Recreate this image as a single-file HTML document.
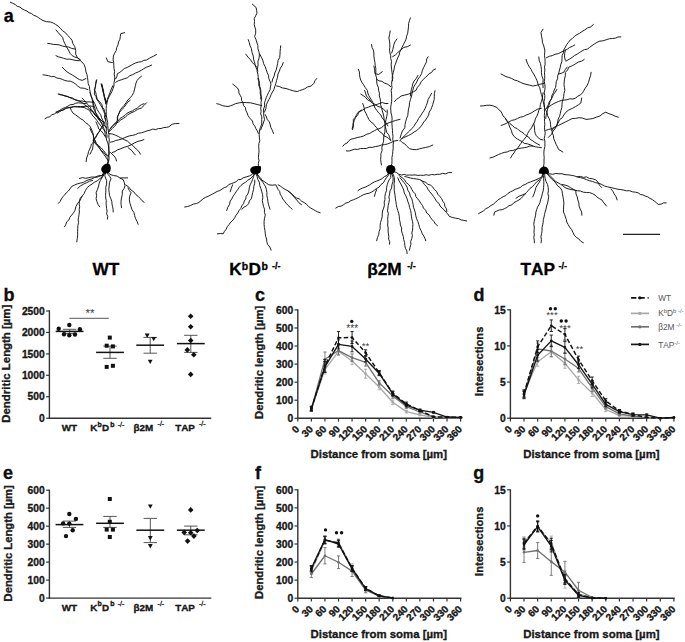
<!DOCTYPE html>
<html><head><meta charset="utf-8"><style>
html,body{margin:0;padding:0;background:#fff;}
svg{display:block;} text{font-kerning:none;}
</style></head><body>
<svg width="685" height="642" viewBox="0 0 685 642">
<rect width="685" height="642" fill="#fff"/>
<path d="M10.3,2.2 L12.7,3.3 L15.2,4.5 L17.2,6.3 L19.9,7.0 L22.0,8.8 L24.4,10.0 L26.9,11.0 L29.0,12.7 L31.6,13.6 L33.7,15.3 L36.2,16.2 L38.5,17.6 L40.7,19.2 L43.0,20.6 L46.7,21.7 L50.5,22.0 L53.2,23.0 L55.6,24.4 L58.0,26.0 L60.4,28.3 L62.6,30.8 L65.4,32.7 L67.5,35.3 L69.9,37.6 L72.0,40.2 L72.9,43.7 L74.8,46.7 L75.7,50.4 L75.7,54.2 L77.2,57.2 L79.4,59.8 L81.9,62.0 L84.1,64.5 L85.4,68.2 L86.0,72.0 L87.0,74.7 L87.5,77.6 L87.9,80.4 L88.2,83.6 L89.4,86.5 L89.7,89.7 L90.3,92.5 L91.0,95.4 L91.9,98.1 L92.5,101.0 L93.1,103.8 L94.4,106.4 L95.1,109.1 L95.3,112.0 L97.5,115.2 L99.2,118.7 L100.3,121.3 L101.7,123.7 L102.9,126.2 L104.0,128.9 L104.8,131.8 L105.3,134.6 L106.1,137.3 L106.6,140.0 L107.8,142.9 L108.5,146.0 L108.6,149.2 L109.4,152.3 L108.9,155.4 L109.1,158.6 L108.5,161.7 L106.3,166.0 L106.2,168.6" fill="none" stroke="#111" stroke-width="0.95" stroke-linejoin="round" stroke-linecap="round"/>
<path d="M56.0,30.0 L58.1,32.5 L60.4,35.0 L62.6,37.4 L63.5,40.7 L64.9,43.7 L66.4,46.7 L68.4,49.9 L70.0,53.3 L72.1,55.6 L74.8,57.0 L77.8,58.0 L80.4,59.8" fill="none" stroke="#111" stroke-width="0.95" stroke-linejoin="round" stroke-linecap="round"/>
<path d="M47.7,43.4 L50.5,43.7 L53.2,44.4 L56.0,44.5 L59.2,44.9 L62.3,46.0 L65.4,46.7 L68.7,47.0 L71.6,48.4 L74.8,49.0" fill="none" stroke="#111" stroke-width="0.95" stroke-linejoin="round" stroke-linecap="round"/>
<path d="M56.0,55.7 L58.4,56.8 L61.0,57.5 L63.6,58.3 L66.6,59.2 L69.8,59.1 L72.9,59.8 L76.1,60.5 L79.4,60.7" fill="none" stroke="#111" stroke-width="0.95" stroke-linejoin="round" stroke-linecap="round"/>
<path d="M62.2,67.3 L64.7,69.7 L67.3,72.0 L69.8,73.6 L72.3,75.0 L74.8,76.6 L77.1,78.2 L79.5,79.6 L82.2,80.4 L86.0,78.5" fill="none" stroke="#111" stroke-width="0.95" stroke-linejoin="round" stroke-linecap="round"/>
<path d="M43.0,74.8 L45.8,75.2 L48.6,75.7 L51.4,76.6 L54.3,76.6 L56.9,78.0 L59.8,78.5 L62.4,79.4 L64.9,80.5 L67.6,81.1 L70.3,81.2 L72.9,82.2 L75.5,84.0 L77.8,86.1 L80.4,87.9 L84.3,88.3 L87.9,89.7" fill="none" stroke="#111" stroke-width="0.95" stroke-linejoin="round" stroke-linecap="round"/>
<path d="M58.9,94.4 L61.5,95.1 L64.1,95.4 L66.7,96.1 L69.2,97.2 L72.5,98.0 L75.3,100.0 L78.5,101.0 L82.3,101.0 L86.0,101.9 L89.8,101.9 L93.5,102.4" fill="none" stroke="#111" stroke-width="0.95" stroke-linejoin="round" stroke-linecap="round"/>
<path d="M45.0,118.7 L47.3,117.4 L49.8,116.7 L51.8,114.8 L54.3,114.0 L57.1,112.1 L59.9,110.3 L62.7,108.4 L65.4,107.5 L67.9,106.2 L70.2,104.7 L73.1,104.5 L75.7,103.2 L78.6,102.8 L82.4,103.2 L86.1,103.7" fill="none" stroke="#111" stroke-width="0.95" stroke-linejoin="round" stroke-linecap="round"/>
<path d="M56.0,112.0 L58.6,111.0 L61.4,110.6 L64.1,109.8 L66.4,108.0 L69.2,107.5 L72.0,106.9 L74.8,106.7 L77.6,106.5 L80.4,106.5 L83.0,106.5 L85.6,106.6 L88.3,106.2 L90.9,106.0 L93.5,106.5" fill="none" stroke="#111" stroke-width="0.95" stroke-linejoin="round" stroke-linecap="round"/>
<path d="M57.1,113.1 L59.9,111.5 L62.6,109.8 L65.5,108.4 L68.3,107.8 L71.2,107.6 L73.9,106.5 L77.3,107.0 L80.8,107.2 L84.2,107.5 L86.6,108.8 L89.1,110.1 L91.7,111.2 L93.9,112.7 L95.1,115.3 L97.1,117.0 L99.2,118.7 L101.8,120.9 L104.8,122.4" fill="none" stroke="#111" stroke-width="0.95" stroke-linejoin="round" stroke-linecap="round"/>
<path d="M70.2,107.5 L71.3,110.4 L73.0,113.1 L75.6,114.9 L78.1,116.7 L80.5,118.7 L83.3,120.2 L85.4,122.6 L88.0,124.3 L90.3,126.8 L91.7,129.9 L93.1,133.5 L93.6,137.4 L94.8,140.1 L95.4,143.0 L97.6,145.3 L99.3,147.9 L101.0,150.5 L103.2,152.0 L105.1,153.8 L106.6,156.1" fill="none" stroke="#111" stroke-width="0.95" stroke-linejoin="round" stroke-linecap="round"/>
<path d="M86.1,161.7 L86.7,157.9 L88.0,154.2 L88.5,151.6 L89.7,149.1 L90.7,146.7 L91.5,144.0 L93.6,142.0 L94.5,139.3 L96.2,136.9 L97.3,134.1 L99.2,131.8 L100.8,128.8 L102.9,126.2" fill="none" stroke="#111" stroke-width="0.95" stroke-linejoin="round" stroke-linecap="round"/>
<path d="M82.2,98.1 L84.2,100.2 L86.1,102.4 L87.9,104.7 L90.1,106.9 L91.3,109.8 L93.5,112.0 L94.9,114.9 L97.2,117.0 L99.0,119.6" fill="none" stroke="#111" stroke-width="0.95" stroke-linejoin="round" stroke-linecap="round"/>
<path d="M96.3,80.4 L95.7,83.5 L95.5,86.7 L94.4,89.7 L95.8,92.7 L96.4,95.9 L97.2,99.0 L99.7,101.7 L101.9,104.7 L102.5,107.3 L104.1,109.4 L104.7,112.0 L105.7,114.6 L105.1,117.4 L106.0,120.0" fill="none" stroke="#111" stroke-width="0.95" stroke-linejoin="round" stroke-linecap="round"/>
<path d="M101.9,84.1 L102.5,87.2 L103.5,90.3 L103.7,93.5 L104.3,96.3 L105.5,99.0 L105.6,101.9" fill="none" stroke="#111" stroke-width="0.95" stroke-linejoin="round" stroke-linecap="round"/>
<path d="M124.6,32.7 L120.8,33.6 L120.3,36.4 L119.9,39.3 L118.5,41.9 L118.0,44.9 L116.7,47.6 L116.2,50.5 L114.6,53.2 L113.4,56.0 L113.1,60.0 L113.7,62.8 L113.8,65.7 L114.0,68.6 L114.6,71.4 L114.2,74.3 L114.8,77.1 L114.5,80.0 L114.0,82.8 L114.0,85.7 L113.0,88.6 L111.9,91.5 L110.5,94.2 L109.0,96.9 L107.7,99.7 L107.1,102.8 L106.4,105.6 L106.2,108.5 L106.3,111.4 L106.2,114.3 L106.6,117.1 L107.1,119.9 L107.7,122.7 L107.7,125.6 L108.0,128.5 L108.4,131.4 L109.0,134.2 L108.8,137.1 L109.3,139.9 L109.0,142.8 L108.8,145.6 L109.1,148.5 L108.6,151.3 L108.8,154.2 L107.9,157.5 L108.0,161.0 L107.1,165.0 L106.2,168.6" fill="none" stroke="#111" stroke-width="0.95" stroke-linejoin="round" stroke-linecap="round"/>
<path d="M106.4,58.0 L107.8,61.7 L112.4,62.6" fill="none" stroke="#111" stroke-width="0.95" stroke-linejoin="round" stroke-linecap="round"/>
<path d="M156.4,54.6 L153.1,56.4 L149.8,58.0 L146.5,60.0 L143.8,60.4 L141.4,61.7 L138.4,62.1 L135.5,63.0 L132.8,64.3 L130.0,65.9 L127.2,67.4 L124.2,68.6 L122.1,70.5 L119.9,72.3 L117.4,73.7 L116.9,76.4 L115.7,78.8" fill="none" stroke="#111" stroke-width="0.95" stroke-linejoin="round" stroke-linecap="round"/>
<path d="M151.6,65.1 L149.0,66.3 L146.3,67.3 L143.8,68.7 L141.4,70.3 L138.5,71.8 L135.6,73.0 L132.8,74.6 L129.8,75.7 L127.3,77.8 L124.2,78.8 L121.3,79.8 L118.4,80.7 L115.7,82.3" fill="none" stroke="#111" stroke-width="0.95" stroke-linejoin="round" stroke-linecap="round"/>
<path d="M141.4,76.3 L139.0,78.2 L137.1,80.5 L136.0,83.0 L135.4,85.7 L134.6,89.1 L133.7,92.5 L132.2,95.3 L130.2,97.7 L127.9,100.0 L126.0,102.8 L124.0,105.5 L121.7,108.0 L120.1,110.4 L119.1,113.1 L117.7,116.4 L117.4,120.0 L116.7,122.6 L115.7,125.1 L112.3,128.5 L108.8,131.9" fill="none" stroke="#111" stroke-width="0.95" stroke-linejoin="round" stroke-linecap="round"/>
<path d="M146.5,102.8 L144.0,105.5 L141.4,108.0 L137.7,109.3 L134.5,111.4 L131.0,112.9 L127.7,114.8 L125.6,116.8 L123.3,118.5 L120.8,119.9 L118.5,122.0 L115.7,123.4 L112.8,125.6 L110.5,128.5" fill="none" stroke="#111" stroke-width="0.95" stroke-linejoin="round" stroke-linecap="round"/>
<path d="M130.2,100.2 L127.9,102.1 L126.0,104.5 L124.1,107.3 L121.7,109.7 L119.7,112.1 L118.3,114.8 L117.3,117.3 L117.4,120.0" fill="none" stroke="#111" stroke-width="0.95" stroke-linejoin="round" stroke-linecap="round"/>
<path d="M179.0,123.4 L175.6,123.6 L172.2,124.2 L168.8,126.8 L166.3,127.4 L163.6,127.6 L161.1,128.5 L158.5,128.5 L155.7,129.6 L152.7,129.1 L149.9,130.2 L147.0,130.9 L144.2,131.9 L141.4,132.8 L138.4,133.2 L135.7,134.5 L132.8,135.3 L129.8,135.8 L127.0,136.7 L124.2,137.9 L121.5,139.1 L118.6,139.9 L115.7,140.5 L113.2,141.6 L110.5,142.2" fill="none" stroke="#111" stroke-width="0.95" stroke-linejoin="round" stroke-linecap="round"/>
<path d="M143.9,139.6 L141.0,140.7 L137.9,141.3 L134.5,143.0 L131.1,144.8 L127.7,146.3 L124.2,147.3 L120.8,148.7 L117.4,149.9 L115.0,151.6 L112.3,152.5" fill="none" stroke="#111" stroke-width="0.95" stroke-linejoin="round" stroke-linecap="round"/>
<path d="M140.5,154.2 L138.7,151.3 L136.2,149.0 L132.8,145.6 L130.1,143.6 L127.7,141.3 L124.2,139.6 L120.8,137.9 L118.3,136.5 L115.7,135.3 L112.4,134.0 L108.8,133.6" fill="none" stroke="#111" stroke-width="0.95" stroke-linejoin="round" stroke-linecap="round"/>
<path d="M135.4,155.0 L133.6,153.0 L132.0,150.8 L128.0,147.5" fill="none" stroke="#111" stroke-width="0.95" stroke-linejoin="round" stroke-linecap="round"/>
<path d="M116.5,161.0 L115.7,158.2 L114.0,155.9 L110.5,152.5" fill="none" stroke="#111" stroke-width="0.95" stroke-linejoin="round" stroke-linecap="round"/>
<path d="M96.8,79.7 L96.2,82.3 L95.6,84.8 L95.1,87.4 L94.7,90.8 L94.3,94.2 L96.0,96.6 L96.8,99.4 L98.6,101.9 L100.3,104.5 L102.3,107.8 L103.7,111.4 L104.8,114.1 L104.5,117.1 L105.4,119.9 L106.1,122.7 L106.0,125.6 L106.3,128.5 L106.3,131.4 L106.8,134.2 L107.1,137.1" fill="none" stroke="#111" stroke-width="0.95" stroke-linejoin="round" stroke-linecap="round"/>
<path d="M101.1,84.0 L102.1,87.4 L102.8,90.8 L103.7,94.3 L104.6,97.7 L105.4,100.3 L106.3,102.8" fill="none" stroke="#111" stroke-width="0.95" stroke-linejoin="round" stroke-linecap="round"/>
<path d="M90.0,92.5 L91.0,96.1 L92.6,99.4 L93.3,102.2 L93.1,105.1 L93.4,108.0 L94.8,110.7 L95.9,113.6 L96.8,116.5 L98.3,119.0 L100.3,121.1 L102.0,123.4 L104.5,126.0 L107.1,128.5" fill="none" stroke="#111" stroke-width="0.95" stroke-linejoin="round" stroke-linecap="round"/>
<path d="M90.0,111.4 L91.5,113.8 L93.0,116.2 L95.1,118.2 L96.9,120.5 L98.5,122.9 L100.3,125.1 L102.0,127.4 L103.7,129.6 L105.4,131.9" fill="none" stroke="#111" stroke-width="0.95" stroke-linejoin="round" stroke-linecap="round"/>
<path d="M90.0,128.5 L91.5,132.0 L93.4,135.3 L93.5,138.8 L93.4,142.2 L93.0,145.6 L92.6,149.0 L91.3,151.6 L90.0,154.2" fill="none" stroke="#111" stroke-width="0.95" stroke-linejoin="round" stroke-linecap="round"/>
<path d="M103.7,125.1 L101.6,127.4 L100.3,130.2 L98.4,132.6 L96.8,135.3 L94.8,137.7 L93.4,140.5" fill="none" stroke="#111" stroke-width="0.95" stroke-linejoin="round" stroke-linecap="round"/>
<path d="M95.1,140.5 L96.4,143.3 L98.6,145.6 L101.3,148.0 L103.7,150.8 L105.8,153.4 L108.0,155.9" fill="none" stroke="#111" stroke-width="0.95" stroke-linejoin="round" stroke-linecap="round"/>
<path d="M144.0,103.7 L141.4,104.7 L139.2,106.2 L137.2,108.2 L134.7,109.3 L132.4,110.9 L129.7,111.9 L127.2,113.1 L125.0,115.3 L122.4,117.1 L119.7,118.7 L118.2,120.9 L115.8,122.3 L114.1,124.3 L112.0,126.6 L110.0,129.0 L108.5,131.8" fill="none" stroke="#111" stroke-width="0.95" stroke-linejoin="round" stroke-linecap="round"/>
<path d="M58.2,94.0 L61.6,94.6 L64.7,96.1 L68.0,96.8 L71.4,98.4 L75.0,99.6 L78.6,100.6 L82.0,102.4 L84.5,104.8 L87.6,106.6 L89.1,108.8 L91.6,110.1 L93.2,112.2 L94.7,114.4 L97.0,115.9 L98.8,117.8 L100.9,119.9 L103.0,122.0 L104.3,125.1 L106.5,127.6" fill="none" stroke="#111" stroke-width="0.95" stroke-linejoin="round" stroke-linecap="round"/>
<path d="M93.2,140.2 L95.0,143.2 L97.4,145.8 L99.8,148.4 L101.6,151.5 L103.8,154.3 L105.8,157.1 L108.6,161.3 L107.4,164.9 L106.2,168.6" fill="none" stroke="#111" stroke-width="0.95" stroke-linejoin="round" stroke-linecap="round"/>
<path d="M96.0,122.0 L97.6,125.4 L98.8,129.0 L101.1,130.9 L103.0,133.2 L105.8,137.4" fill="none" stroke="#111" stroke-width="0.95" stroke-linejoin="round" stroke-linecap="round"/>
<path d="M93.2,101.0 L94.8,103.7 L96.0,106.6 L97.2,109.5 L98.8,112.2 L100.7,114.8 L101.6,117.8 L102.9,120.6 L104.4,123.4" fill="none" stroke="#111" stroke-width="0.95" stroke-linejoin="round" stroke-linecap="round"/>
<path d="M101.6,84.2 L102.4,87.7 L103.0,91.2 L104.2,94.6 L104.4,98.2 L105.3,101.0 L105.8,103.8" fill="none" stroke="#111" stroke-width="0.95" stroke-linejoin="round" stroke-linecap="round"/>
<path d="M112.9,85.6 L111.3,89.0 L110.0,92.6 L108.6,96.1 L107.2,99.6 L105.8,103.8" fill="none" stroke="#111" stroke-width="0.95" stroke-linejoin="round" stroke-linecap="round"/>
<path d="M79.5,178.5 L82.5,177.6 L85.7,178.3 L88.7,177.7 L91.7,177.0 L95.2,177.1 L98.5,175.7 L102.0,175.7 L103.2,173.2 L104.4,170.7 L106.2,168.6" fill="none" stroke="#111" stroke-width="0.95" stroke-linejoin="round" stroke-linecap="round"/>
<path d="M58.4,203.3 L60.2,201.4 L61.4,198.9 L62.8,196.8 L64.7,194.8 L66.3,192.8 L68.4,191.0 L70.0,188.9 L71.5,186.6 L74.3,185.2 L77.2,183.9 L80.3,183.1 L83.4,182.4 L86.1,180.8 L89.0,179.6 L92.0,178.9 L94.7,177.4 L97.8,177.0 L100.3,175.8 L103.0,175.5 L104.8,172.1 L106.2,168.6" fill="none" stroke="#111" stroke-width="0.95" stroke-linejoin="round" stroke-linecap="round"/>
<path d="M64.5,226.9 L65.8,224.5 L66.7,221.9 L68.9,219.9 L69.8,217.3 L71.7,215.1 L73.5,212.8 L75.0,210.3 L75.9,206.6 L77.7,203.3 L79.5,201.2 L80.2,198.4 L82.0,196.3 L84.1,193.6 L85.5,190.4 L87.3,187.5 L89.5,185.6 L92.0,184.1 L94.3,182.3 L97.2,180.9 L99.6,178.8 L103.0,176.5 L103.8,173.8 L104.8,171.1 L106.2,168.6" fill="none" stroke="#111" stroke-width="0.95" stroke-linejoin="round" stroke-linecap="round"/>
<path d="M76.8,241.8 L77.3,238.3 L77.7,234.8 L77.6,231.7 L77.7,228.7 L77.9,225.6 L78.5,222.6 L78.2,219.9 L78.6,217.3 L79.0,214.6 L79.4,212.0 L79.2,209.4 L79.7,206.8 L79.2,204.1 L79.4,201.5 L80.7,198.9 L82.0,196.3" fill="none" stroke="#111" stroke-width="0.95" stroke-linejoin="round" stroke-linecap="round"/>
<path d="M77.7,188.4 L80.5,185.9 L83.8,184.0 L86.7,182.7 L89.5,181.2 L92.6,180.5" fill="none" stroke="#111" stroke-width="0.95" stroke-linejoin="round" stroke-linecap="round"/>
<path d="M99.6,206.8 L98.0,204.3 L96.9,201.5 L96.1,198.6 L96.6,195.7 L96.1,192.8 L97.5,189.3 L98.7,185.8 L99.2,183.0 L100.4,180.5 L102.2,177.0 L104.0,174.5 L105.1,171.5 L106.2,168.6" fill="none" stroke="#111" stroke-width="0.95" stroke-linejoin="round" stroke-linecap="round"/>
<path d="M107.4,219.1 L107.7,216.4 L106.6,213.8 L107.1,211.1 L106.6,208.5 L106.3,205.9 L106.1,203.3 L106.3,200.6 L105.7,198.0 L105.6,195.4 L105.7,192.8 L105.9,190.1 L105.7,187.5 L106.7,184.1 L106.6,180.5 L105.5,178.0 L104.8,175.3 L105.9,172.0 L106.2,168.6" fill="none" stroke="#111" stroke-width="0.95" stroke-linejoin="round" stroke-linecap="round"/>
<path d="M113.2,212.0 L113.1,209.3 L112.6,206.7 L112.0,204.1 L111.8,201.5 L110.8,198.6 L109.6,195.8 L109.2,192.8 L108.8,189.3 L109.2,185.8 L109.6,182.2 L111.0,178.8 L109.8,176.5 L108.1,174.4 L106.9,171.6 L106.2,168.6" fill="none" stroke="#111" stroke-width="0.95" stroke-linejoin="round" stroke-linecap="round"/>
<path d="M121.5,207.7 L121.1,204.5 L121.0,201.2 L121.5,198.0 L122.3,194.5 L122.3,191.0 L124.0,188.6 L125.0,185.8 L124.3,182.6 L123.2,179.6 L120.0,178.1 L117.1,176.1 L113.4,175.5 L109.8,174.4 L107.8,171.6 L106.2,168.6" fill="none" stroke="#111" stroke-width="0.95" stroke-linejoin="round" stroke-linecap="round"/>
<path d="M127.6,177.9 L124.1,177.9 L120.6,177.9" fill="none" stroke="#111" stroke-width="0.95" stroke-linejoin="round" stroke-linecap="round"/>
<path d="M144.2,202.4 L141.9,200.6 L140.1,198.4 L138.1,196.3 L135.6,194.4 L133.8,191.8 L131.1,190.1 L128.8,187.1 L125.8,184.9" fill="none" stroke="#111" stroke-width="0.95" stroke-linejoin="round" stroke-linecap="round"/>
<path d="M138.1,224.3 L137.0,221.3 L135.5,218.5 L134.6,215.5 L133.9,212.4 L132.1,209.8 L131.1,206.8 L130.0,203.3 L129.3,199.8 L129.7,196.2 L131.1,192.8 L129.4,190.5 L128.0,188.0" fill="none" stroke="#111" stroke-width="0.95" stroke-linejoin="round" stroke-linecap="round"/>
<path d="M107.9,163.5 C110.6,163.9 111.1,167.5 110.6,170 C110.1,172.6 108,173.4 105.5,173.4 C102.9,173.4 101.1,171.5 101.2,169.3 C101.4,166.7 104.5,163.2 107.9,163.5 Z" fill="#000"/>
<path d="M252.3,4.1 L256.1,7.5 L256.6,10.3 L257.0,13.1 L255.6,15.9 L254.2,18.7 L254.5,21.5 L254.2,24.3 L254.9,27.1 L255.7,29.9 L255.7,33.2 L254.6,36.4 L256.0,39.6 L257.0,43.0 L257.9,45.7 L257.9,48.6 L258.8,51.4 L259.4,54.2 L259.1,58.0 L257.9,61.7 L258.1,64.9 L257.5,67.9 L257.0,71.0 L257.9,74.1 L258.2,77.3 L258.9,80.4 L259.5,83.5 L259.8,86.7 L260.7,89.7 L260.9,92.9 L261.1,96.0 L261.7,99.1 L261.0,102.2 L261.2,105.3 L260.7,108.4 L261.1,111.2 L260.7,114.0 L261.8,116.8 L261.7,119.6 L261.8,124.0 L260.4,127.4 L259.4,131.0 L259.2,134.5 L259.4,138.0 L259.8,140.8 L258.9,143.6 L258.7,146.4 L258.9,149.3 L259.0,152.1 L258.6,154.9 L258.4,157.7 L259.0,160.5 L258.4,163.3 L258.3,166.1 L255.6,170.2" fill="none" stroke="#111" stroke-width="0.95" stroke-linejoin="round" stroke-linecap="round"/>
<path d="M248.2,39.6 L249.3,42.6 L250.0,45.7 L251.4,48.6 L252.0,52.4 L253.3,56.1 L253.5,59.0 L254.4,61.7 L255.1,64.5 L256.1,67.9 L257.9,71.0" fill="none" stroke="#111" stroke-width="0.95" stroke-linejoin="round" stroke-linecap="round"/>
<path d="M245.8,54.2 L248.0,57.1 L250.5,59.8 L252.2,62.3 L254.2,64.5 L257.0,67.3" fill="none" stroke="#111" stroke-width="0.95" stroke-linejoin="round" stroke-linecap="round"/>
<path d="M259.8,54.2 L261.3,57.2 L262.8,60.3 L263.6,63.6 L265.2,66.6 L266.2,69.7 L267.3,72.9 L268.6,75.6 L268.8,78.6 L270.0,81.3 L271.0,84.1 L270.4,86.9 L270.1,89.7 L268.6,92.4 L267.3,95.3 L266.2,97.7 L265.4,100.3 L264.5,102.8 L264.7,106.0 L263.6,109.0 L263.6,112.1 L263.8,115.9 L264.5,119.6 L263.0,124.0 L261.8,127.0 L260.6,130.0" fill="none" stroke="#111" stroke-width="0.95" stroke-linejoin="round" stroke-linecap="round"/>
<path d="M280.7,45.8 L280.4,48.6 L280.1,51.4 L280.0,54.2 L279.7,57.5 L278.1,60.4 L277.6,63.6 L276.9,66.8 L276.2,69.9 L274.8,72.9 L274.1,76.1 L272.7,79.0 L272.0,82.2" fill="none" stroke="#111" stroke-width="0.95" stroke-linejoin="round" stroke-linecap="round"/>
<path d="M283.2,62.6 L282.2,65.5 L280.4,68.1 L279.4,71.0 L278.0,74.0 L277.5,77.3 L276.6,80.4 L275.8,83.5 L274.8,86.6 L273.8,89.7 L272.4,92.1 L271.1,94.6 L270.1,97.2 L268.8,99.6 L267.5,102.1 L266.4,104.7 L265.9,108.5 L264.5,112.1" fill="none" stroke="#111" stroke-width="0.95" stroke-linejoin="round" stroke-linecap="round"/>
<path d="M276.6,86.0 L279.5,86.6 L282.2,87.9 L286.0,88.5 L289.7,89.7 L293.4,90.9 L297.2,91.6 L299.6,90.5 L302.2,89.8 L304.7,88.8 L307.7,86.9 L311.2,86.0 L314.0,83.2 L315.0,80.6 L316.8,78.5" fill="none" stroke="#111" stroke-width="0.95" stroke-linejoin="round" stroke-linecap="round"/>
<path d="M216.8,103.7 L219.7,104.4 L222.4,105.6 L225.2,106.2 L228.0,106.5 L230.6,105.8 L233.1,104.8 L235.5,103.7 L239.2,102.8 L243.0,102.4 L246.7,102.6 L250.5,102.8 L254.2,103.7 L257.9,104.7 L261.7,105.6" fill="none" stroke="#111" stroke-width="0.95" stroke-linejoin="round" stroke-linecap="round"/>
<path d="M232.7,84.1 L235.1,86.0 L237.4,87.9 L238.7,90.2 L238.9,93.0 L240.2,95.3 L241.4,97.7 L241.6,100.5 L243.0,102.8 L243.5,105.5 L245.4,107.6 L245.8,110.3 L247.1,112.8 L248.0,115.5 L249.5,117.8 L252.4,121.0 L253.1,123.8 L254.8,126.1 L255.9,128.7 L257.3,130.9 L258.3,133.4" fill="none" stroke="#111" stroke-width="0.95" stroke-linejoin="round" stroke-linecap="round"/>
<path d="M257.9,78.5 L258.8,81.6 L258.7,84.9 L259.8,87.9 L260.3,90.7 L260.2,93.5 L260.9,96.3 L260.7,99.1" fill="none" stroke="#111" stroke-width="0.95" stroke-linejoin="round" stroke-linecap="round"/>
<path d="M265.3,114.7 L266.5,117.0 L267.2,119.6 L269.2,121.5 L270.0,124.0 L270.8,127.3 L272.3,130.3 L273.5,133.4" fill="none" stroke="#111" stroke-width="0.95" stroke-linejoin="round" stroke-linecap="round"/>
<path d="M184.7,207.0 L187.7,206.5 L190.6,205.5 L193.4,204.1 L196.4,203.5 L198.9,202.5 L201.0,200.6 L203.1,198.8 L205.4,197.4 L208.0,196.4 L210.3,195.2 L212.7,194.0 L214.9,192.7 L217.2,191.4 L219.7,190.6 L222.0,189.1 L224.3,187.6 L226.9,186.7 L228.8,184.5 L231.4,183.6 L233.9,182.7 L236.2,181.6 L238.2,179.7 L241.0,179.4 L243.1,177.8 L246.3,176.9 L249.5,175.9 L252.4,174.3 L253.8,172.1 L255.6,170.2" fill="none" stroke="#111" stroke-width="0.95" stroke-linejoin="round" stroke-linecap="round"/>
<path d="M230.2,191.8 L231.3,188.3 L232.6,184.8" fill="none" stroke="#111" stroke-width="0.95" stroke-linejoin="round" stroke-linecap="round"/>
<path d="M226.7,210.5 L227.8,207.3 L229.5,204.4 L230.2,201.1 L231.8,198.8 L233.0,196.4 L234.6,194.1 L236.1,191.8 L237.7,189.6 L239.2,187.4 L241.0,185.4 L243.1,183.6 L245.6,182.3 L247.6,180.3 L250.1,178.9 L253.6,175.4 L255.0,173.0 L255.6,170.2" fill="none" stroke="#111" stroke-width="0.95" stroke-linejoin="round" stroke-linecap="round"/>
<path d="M217.4,233.8 L220.3,233.5 L223.2,233.8 L224.5,231.3 L226.2,229.2 L227.3,226.6 L229.1,224.5 L230.7,222.1 L233.0,220.1 L234.7,217.7 L236.1,215.1 L237.8,213.0 L239.1,210.5 L240.8,208.4 L241.9,205.8 L243.5,203.7 L244.3,201.1 L245.7,198.9 L246.2,196.2 L247.8,194.1 L248.8,191.1 L249.3,187.9 L250.1,184.8 L251.5,182.2 L252.6,179.4 L253.6,176.6 L254.4,173.3 L255.6,170.2" fill="none" stroke="#111" stroke-width="0.95" stroke-linejoin="round" stroke-linecap="round"/>
<path d="M241.9,209.3 L244.0,207.2 L246.6,205.8 L248.6,203.7 L249.4,200.9 L251.3,198.8 L252.0,195.7 L252.7,192.5 L253.6,189.4 L253.8,186.3 L254.7,183.2 L254.8,180.1" fill="none" stroke="#111" stroke-width="0.95" stroke-linejoin="round" stroke-linecap="round"/>
<path d="M271.1,250.2 L269.8,247.0 L267.6,244.3 L266.8,241.7 L266.6,239.0 L265.7,236.5 L265.3,233.8 L265.0,230.7 L264.4,227.6 L264.1,224.5 L264.1,221.3 L264.5,218.2 L265.3,215.1 L264.4,212.3 L264.5,209.2 L263.5,206.4 L262.9,203.5 L262.3,200.6 L262.8,197.6 L262.6,194.7 L261.8,191.8 L260.9,188.7 L259.8,185.6 L259.4,182.4 L257.9,179.6 L257.1,176.6 L255.9,173.5 L255.6,170.2" fill="none" stroke="#111" stroke-width="0.95" stroke-linejoin="round" stroke-linecap="round"/>
<path d="M270.0,209.3 L269.2,206.7 L268.4,204.2 L267.9,201.5 L267.6,198.8 L266.9,195.7 L266.9,192.5 L266.4,189.4 L265.6,186.9 L264.3,184.6 L262.9,182.4 L260.5,179.6 L258.3,176.6 L256.9,173.4 L255.6,170.2" fill="none" stroke="#111" stroke-width="0.95" stroke-linejoin="round" stroke-linecap="round"/>
<path d="M292.1,209.3 L290.2,207.3 L288.1,205.5 L286.3,203.5 L284.6,201.2 L282.8,199.0 L281.6,196.4 L280.2,194.2 L279.7,191.5 L278.1,189.4 L275.8,184.8 L272.3,185.2 L268.8,184.8 L266.5,183.2 L264.2,181.5 L261.8,180.1 L260.5,177.8 L258.5,176.0 L256.8,173.2 L255.6,170.2" fill="none" stroke="#111" stroke-width="0.95" stroke-linejoin="round" stroke-linecap="round"/>
<path d="M320.2,212.8 L317.7,211.9 L315.4,210.7 L313.1,209.4 L310.8,208.1 L308.4,206.4 L306.5,204.2 L304.1,202.5 L301.5,201.1 L299.4,199.0 L296.5,198.0 L294.1,196.3 L292.1,194.1 L289.9,192.3 L287.7,190.6 L285.1,189.4 L282.8,187.9 L280.5,186.3 L278.1,184.8" fill="none" stroke="#111" stroke-width="0.95" stroke-linejoin="round" stroke-linecap="round"/>
<path d="M301.5,204.6 L298.8,202.7 L296.7,200.0 L294.5,197.6 L292.5,194.9 L290.1,192.7 L287.5,190.6" fill="none" stroke="#111" stroke-width="0.95" stroke-linejoin="round" stroke-linecap="round"/>
<path d="M253,166.4 C255.5,165.8 259,165.8 260.8,166.3 C261.5,168.5 261,171.5 259.5,173 C258,174.4 254.5,174.8 252.5,173.8 C250.5,172.8 249.9,170.5 250.3,169.2 C250.8,167.8 251.8,166.8 253,166.4 Z" fill="#000"/>
<path d="M410.4,17.9 L409.4,20.8 L408.6,23.7 L408.5,26.8 L408.1,30.0 L407.7,33.2 L406.6,36.2 L406.1,39.1 L404.8,41.8 L403.4,44.6 L402.0,47.4 L400.9,49.8 L399.7,52.2 L399.2,54.9 L397.7,57.9 L396.5,61.0 L395.4,64.2 L394.4,66.9 L394.0,69.8 L393.2,72.6 L392.6,75.4 L392.8,78.6 L391.7,81.6 L391.7,84.8 L392.0,87.6 L391.2,90.4 L391.5,93.2 L391.7,96.0 L391.7,98.8 L391.6,101.6 L391.2,104.4 L390.7,107.2 L390.8,110.1 L391.0,113.0 L391.8,115.9 L392.1,118.8 L391.9,121.7 L392.0,124.6 L392.2,127.6 L392.5,130.5 L392.6,133.4 L393.0,136.3 L392.7,139.2 L393.5,142.1 L393.1,145.0 L393.2,148.1 L392.8,151.3 L392.6,154.4 L391.9,157.5 L392.0,160.6 L391.9,163.7 L390.9,166.5 L390.8,169.4" fill="none" stroke="#111" stroke-width="0.95" stroke-linejoin="round" stroke-linecap="round"/>
<path d="M390.2,30.9 L389.6,34.5 L388.9,38.0 L389.5,41.1 L389.8,44.2 L389.8,47.4 L389.5,50.2 L390.0,53.0 L390.7,55.8 L390.7,58.6 L391.5,61.4 L391.2,64.2 L391.3,67.0 L391.7,69.8 L392.0,72.6 L392.4,75.4 L392.2,78.2 L392.6,81.0" fill="none" stroke="#111" stroke-width="0.95" stroke-linejoin="round" stroke-linecap="round"/>
<path d="M396.9,39.0 L394.8,42.0 L393.6,45.5 L392.9,49.3 L391.7,53.0" fill="none" stroke="#111" stroke-width="0.95" stroke-linejoin="round" stroke-linecap="round"/>
<path d="M410.4,45.1 L407.3,46.7 L403.8,47.4 L401.6,49.4 L399.2,51.1 L397.4,53.1 L395.4,54.9 L392.6,56.7" fill="none" stroke="#111" stroke-width="0.95" stroke-linejoin="round" stroke-linecap="round"/>
<path d="M371.5,44.6 L372.1,47.5 L373.4,50.1 L373.9,53.0 L373.9,56.1 L374.3,59.2 L374.9,62.3 L375.2,65.4 L375.8,68.5 L375.8,71.7 L375.6,74.8 L376.6,77.9 L376.7,81.0 L377.0,84.2 L378.3,87.2 L378.6,90.4 L379.4,93.1 L379.3,96.0 L380.2,98.8 L380.5,101.6 L380.6,104.8 L381.7,107.8 L382.3,110.9 L383.3,114.0 L383.9,117.1 L384.2,120.3 L384.9,123.4 L385.3,126.5 L386.1,129.6 L386.8,132.5 L388.8,134.8 L389.7,137.7 L390.7,140.4" fill="none" stroke="#111" stroke-width="0.95" stroke-linejoin="round" stroke-linecap="round"/>
<path d="M373.9,66.1 L374.7,69.8 L374.9,73.6 L378.6,74.5 L382.3,71.7" fill="none" stroke="#111" stroke-width="0.95" stroke-linejoin="round" stroke-linecap="round"/>
<path d="M376.7,79.2 L379.0,80.9 L381.9,81.3 L384.2,82.9 L387.7,84.3 L390.7,86.6" fill="none" stroke="#111" stroke-width="0.95" stroke-linejoin="round" stroke-linecap="round"/>
<path d="M358.4,69.4 L359.4,71.9 L359.5,74.6 L359.9,77.3 L360.7,80.0 L362.0,82.5 L363.6,84.8 L365.3,87.7 L367.4,90.4 L367.8,93.1 L368.8,95.6 L370.2,97.9 L371.6,100.3 L373.0,102.7 L373.9,105.3 L375.1,108.1 L376.8,110.4 L378.6,112.8 L380.9,115.0 L382.2,117.9 L384.2,120.3 L386.2,123.0 L387.9,125.9" fill="none" stroke="#111" stroke-width="0.95" stroke-linejoin="round" stroke-linecap="round"/>
<path d="M364.6,90.4 L365.6,93.2 L366.4,96.0 L368.9,98.7 L371.1,101.6" fill="none" stroke="#111" stroke-width="0.95" stroke-linejoin="round" stroke-linecap="round"/>
<path d="M360.8,94.1 L363.2,95.7 L365.6,97.4 L367.4,99.7 L370.3,101.4 L373.0,103.5 L375.6,104.6 L377.8,106.4 L380.5,107.2 L383.6,109.2 L386.1,111.9" fill="none" stroke="#111" stroke-width="0.95" stroke-linejoin="round" stroke-linecap="round"/>
<path d="M352.4,129.6 L353.5,126.6 L353.4,123.3 L354.3,120.3 L355.7,117.4 L357.7,114.9 L359.0,111.9 L362.4,110.3 L365.5,108.1 L368.6,107.1 L371.6,105.8 L374.9,105.3 L377.4,104.3 L379.8,103.3 L382.3,102.5 L385.0,103.5 L387.9,103.5" fill="none" stroke="#111" stroke-width="0.95" stroke-linejoin="round" stroke-linecap="round"/>
<path d="M362.7,103.5 L364.0,107.1 L364.6,110.9 L366.1,113.6 L367.4,116.5 L368.9,119.5 L371.1,122.1 L373.3,123.6 L374.9,125.8 L376.7,127.8 L378.2,130.0 L380.0,131.9 L382.3,133.4 L383.7,135.7 L386.3,136.8 L388.6,138.4 L390.7,140.4" fill="none" stroke="#111" stroke-width="0.95" stroke-linejoin="round" stroke-linecap="round"/>
<path d="M428.1,56.7 L426.7,59.0 L426.5,61.8 L425.3,64.2 L423.8,67.2 L422.4,70.3 L421.6,73.6 L419.9,76.5 L417.9,79.2 L416.7,82.1 L415.0,84.8 L413.6,87.1 L413.0,89.7 L412.2,92.2 L411.6,96.0 L410.4,99.7 L409.5,102.8 L409.3,106.0 L408.5,109.1 L408.1,112.2 L407.8,115.4 L406.6,118.4 L405.7,121.5 L405.0,124.6 L404.8,127.8 L402.4,131.0 L401.1,134.5 L400.1,138.0" fill="none" stroke="#111" stroke-width="0.95" stroke-linejoin="round" stroke-linecap="round"/>
<path d="M435.6,68.9 L433.1,70.1 L431.6,72.5 L429.1,73.6 L427.4,75.7 L425.4,77.4 L423.5,79.2 L421.2,81.7 L419.7,84.8 L417.4,87.3 L416.0,90.4 L413.6,91.7 L411.1,93.1 L408.5,94.1 L404.8,95.1 L401.0,96.0 L398.8,97.9 L396.4,99.4 L394.5,101.6" fill="none" stroke="#111" stroke-width="0.95" stroke-linejoin="round" stroke-linecap="round"/>
<path d="M417.9,75.4 L416.3,78.4 L414.1,81.0 L412.8,83.7 L412.2,86.6 L411.3,89.7 L410.7,92.8 L410.4,96.0" fill="none" stroke="#111" stroke-width="0.95" stroke-linejoin="round" stroke-linecap="round"/>
<path d="M435.0,90.8 L434.4,93.6 L434.3,96.5 L434.2,99.4 L433.5,102.0 L432.7,104.6 L431.8,107.2 L430.8,109.7 L429.2,112.1 L428.6,115.1 L427.2,117.6 L425.6,120.0 L423.7,122.0 L422.4,124.4 L420.9,126.7 L418.8,128.5 L416.8,130.6 L414.2,131.9 L411.9,133.6 L408.5,135.5 L405.0,137.0 L402.2,138.3 L399.9,140.5" fill="none" stroke="#111" stroke-width="0.95" stroke-linejoin="round" stroke-linecap="round"/>
<path d="M431.6,93.4 L429.8,96.4 L428.2,99.4 L427.3,102.8 L426.3,105.5 L425.2,108.2 L423.9,110.7 L422.2,113.1 L420.5,115.9 L418.5,118.6 L417.0,121.6 L415.3,123.9 L413.8,126.4 L411.9,128.5 L409.4,131.1 L406.8,133.6 L404.1,136.1 L401.6,138.8" fill="none" stroke="#111" stroke-width="0.95" stroke-linejoin="round" stroke-linecap="round"/>
<path d="M352.2,128.7 L352.8,125.6 L353.3,122.5 L353.4,119.3 L355.3,117.2 L356.6,114.7 L358.0,112.3 L361.5,110.0" fill="none" stroke="#111" stroke-width="0.95" stroke-linejoin="round" stroke-linecap="round"/>
<path d="M342.9,146.2 L344.7,144.1 L347.2,143.0 L348.8,140.8 L351.0,139.2 L354.2,138.5 L357.2,137.5 L360.4,136.9 L363.6,136.0 L366.5,134.3 L369.7,133.4 L371.9,132.0 L374.3,130.8 L376.6,129.5 L379.1,128.7 L381.7,127.5 L383.8,125.6 L386.1,124.0 L389.1,122.7 L392.3,121.6 L395.4,120.5 L400.1,119.3" fill="none" stroke="#111" stroke-width="0.95" stroke-linejoin="round" stroke-linecap="round"/>
<path d="M346.4,150.9 L349.3,151.0 L352.0,150.0 L354.8,149.2 L357.7,149.4 L360.4,148.6 L363.3,148.5 L366.3,148.5 L369.1,147.3 L372.1,147.4 L375.2,146.6 L378.4,146.1 L381.4,145.0 L384.6,144.6 L387.7,143.9 L390.7,142.7 L394.1,141.1 L397.8,140.4" fill="none" stroke="#111" stroke-width="0.95" stroke-linejoin="round" stroke-linecap="round"/>
<path d="M381.4,164.9 L381.0,162.2 L380.6,159.5 L380.9,156.7 L380.9,153.6 L382.1,150.6 L381.9,147.4 L382.6,144.3 L383.6,141.2 L383.7,138.0 L384.0,134.9 L384.9,131.9 L384.9,128.7 L385.2,125.6 L385.4,122.4 L386.1,119.3 L386.8,116.2 L387.3,113.2 L387.2,110.0" fill="none" stroke="#111" stroke-width="0.95" stroke-linejoin="round" stroke-linecap="round"/>
<path d="M432.8,145.0 L429.4,146.6 L425.8,147.4 L422.6,148.1 L419.5,148.8 L416.4,149.7 L412.9,149.5 L409.4,148.6 L407.0,146.4 L404.8,143.9 L402.2,142.5 L400.1,140.4" fill="none" stroke="#111" stroke-width="0.95" stroke-linejoin="round" stroke-linecap="round"/>
<path d="M358.0,190.6 L360.2,189.1 L362.6,188.0 L365.1,187.2 L367.4,186.1 L369.7,184.8 L371.9,183.3 L374.2,182.0 L376.7,181.1 L379.1,180.1 L381.9,178.7 L384.3,176.7 L387.2,175.4 L388.8,172.3 L390.8,169.4" fill="none" stroke="#111" stroke-width="0.95" stroke-linejoin="round" stroke-linecap="round"/>
<path d="M335.8,208.1 L338.2,206.6 L341.1,206.1 L343.6,204.7 L345.9,203.0 L348.7,202.3 L350.8,200.7 L353.3,199.8 L355.7,198.8 L358.1,197.7 L360.4,196.4 L363.2,194.8 L366.1,193.8 L369.3,193.2 L372.1,191.8 L374.4,190.2 L376.6,188.5 L379.1,187.1 L380.9,184.6 L383.4,182.8 L384.9,180.1 L386.5,177.6 L388.4,175.4 L389.7,172.4 L390.8,169.4" fill="none" stroke="#111" stroke-width="0.95" stroke-linejoin="round" stroke-linecap="round"/>
<path d="M374.4,196.4 L375.4,192.9 L376.7,189.4" fill="none" stroke="#111" stroke-width="0.95" stroke-linejoin="round" stroke-linecap="round"/>
<path d="M376.7,240.8 L377.4,237.7 L378.7,234.7 L379.1,231.5 L380.2,228.7 L380.1,225.6 L380.5,222.7 L381.4,219.8 L382.2,216.9 L382.2,213.9 L382.6,210.9 L383.7,208.1 L384.4,205.2 L384.2,202.2 L385.0,199.4 L384.9,196.4 L385.4,193.5 L386.5,190.7 L386.6,187.7 L387.2,184.8 L388.0,182.3 L389.1,179.9 L390.7,177.8 L390.8,175.0 L390.9,172.2 L390.8,169.4" fill="none" stroke="#111" stroke-width="0.95" stroke-linejoin="round" stroke-linecap="round"/>
<path d="M389.6,244.3 L389.7,241.6 L388.6,239.1 L388.8,236.4 L388.4,233.8 L388.1,230.9 L388.2,227.9 L387.6,225.0 L387.9,222.1 L387.7,219.3 L387.9,216.5 L388.4,213.7 L387.5,210.9 L387.9,208.1 L388.2,205.3 L388.9,202.5 L389.4,199.8 L388.9,196.9 L389.6,194.1 L390.0,190.9 L391.6,188.0 L391.9,184.8 L393.0,181.4 L393.1,177.8 L392.3,175.0 L391.1,172.3 L390.8,169.4" fill="none" stroke="#111" stroke-width="0.95" stroke-linejoin="round" stroke-linecap="round"/>
<path d="M407.1,253.7 L406.8,250.8 L405.4,248.3 L404.8,245.5 L404.6,242.5 L403.7,239.6 L403.3,236.7 L402.4,233.8 L401.5,230.9 L401.6,227.9 L400.4,225.1 L400.1,222.1 L399.4,219.2 L399.3,216.2 L398.7,213.3 L397.8,210.5 L396.9,207.6 L396.3,204.7 L395.9,201.7 L395.4,198.8 L395.1,195.9 L394.7,193.0 L394.2,190.1 L394.3,187.1 L394.0,184.0 L394.5,180.9 L394.3,177.8 L393.5,174.8 L391.5,172.4 L390.8,169.4" fill="none" stroke="#111" stroke-width="0.95" stroke-linejoin="round" stroke-linecap="round"/>
<path d="M409.4,250.2 L410.1,247.3 L410.9,244.4 L410.7,241.3 L411.8,238.5 L412.4,235.7 L411.8,232.9 L412.6,230.1 L412.7,227.3 L412.9,224.5 L412.6,221.7 L411.8,218.9 L411.4,216.1 L411.1,213.3 L410.6,210.5 L409.6,207.6 L409.0,204.6 L407.9,201.7 L407.1,198.8 L405.9,195.9 L404.3,193.1 L403.7,190.0 L402.4,187.1 L400.9,184.0 L399.1,181.0 L397.8,177.8" fill="none" stroke="#111" stroke-width="0.95" stroke-linejoin="round" stroke-linecap="round"/>
<path d="M425.8,240.8 L424.9,238.3 L423.7,236.0 L422.3,233.8 L421.1,230.7 L419.6,227.7 L418.8,224.5 L417.9,221.6 L416.6,218.8 L415.8,215.8 L415.3,212.8 L414.5,210.0 L413.5,207.3 L413.1,204.4 L412.5,201.6 L411.8,198.8 L410.2,196.1 L409.6,192.9 L407.8,190.2 L407.1,187.1 L405.6,184.6 L403.8,182.3 L401.9,180.1 L400.1,177.8" fill="none" stroke="#111" stroke-width="0.95" stroke-linejoin="round" stroke-linecap="round"/>
<path d="M437.5,225.7 L435.4,224.0 L434.0,221.6 L432.1,219.6 L430.5,217.5 L429.1,214.9 L426.7,213.0 L425.6,210.2 L423.5,208.1 L422.5,205.5 L420.8,203.3 L419.4,200.9 L417.6,198.8 L415.9,196.6 L415.2,193.8 L413.2,191.8 L411.8,189.4 L410.5,186.8 L408.7,184.5 L406.3,182.6 L404.8,180.1 L402.0,177.5 L398.9,175.4" fill="none" stroke="#111" stroke-width="0.95" stroke-linejoin="round" stroke-linecap="round"/>
<path d="M446.8,211.6 L446.5,208.8 L444.8,206.3 L444.5,203.5 L442.8,201.2 L441.6,198.6 L439.8,196.4 L437.8,194.3 L436.6,191.5 L434.4,189.6 L432.8,187.1 L430.7,185.2 L427.9,184.3 L425.8,182.4 L422.7,181.2 L419.7,179.6 L416.4,178.9 L413.4,178.6 L410.5,178.0 L407.7,177.2 L404.8,176.6" fill="none" stroke="#111" stroke-width="0.95" stroke-linejoin="round" stroke-linecap="round"/>
<path d="M466.7,221.0 L463.9,220.4 L461.1,219.9 L458.5,218.6 L455.3,218.2 L452.2,217.4 L449.2,216.3 L447.8,213.9 L445.8,212.1 L444.2,209.9 L442.1,208.1 L440.1,206.0 L438.9,203.3 L436.5,201.4 L435.1,198.8 L433.4,196.4 L431.7,194.0 L429.7,191.8 L428.1,189.4 L426.7,186.8 L424.6,184.7 L422.9,182.4 L421.1,180.1" fill="none" stroke="#111" stroke-width="0.95" stroke-linejoin="round" stroke-linecap="round"/>
<path d="M451.5,172.6 L448.5,172.6 L445.7,173.9 L442.6,173.3 L439.8,174.3 L437.1,174.3 L434.4,174.8 L431.6,174.5 L429.0,175.3 L426.2,174.7 L423.5,175.4 L420.7,175.2 L417.9,175.4 L415.0,174.9 L412.2,175.1 L409.4,175.0 L406.8,175.2 L404.2,174.4 L401.5,175.0 L398.9,174.3 L396.4,172.4 L393.4,171.3 L390.8,169.4" fill="none" stroke="#111" stroke-width="0.95" stroke-linejoin="round" stroke-linecap="round"/>
<ellipse cx="390.7" cy="169.6" rx="4.7" ry="4.7" transform="rotate(0 390.7 169.6)" fill="#000"/>
<path d="M543.0,29.2 L541.0,32.4 L541.5,36.2 L542.3,39.9 L542.4,42.6 L543.5,45.0 L544.8,50.0 L544.7,52.8 L544.5,55.7 L544.9,58.6 L545.1,61.4 L545.1,64.3 L544.5,67.1 L544.9,70.0 L544.5,72.8 L544.7,75.7 L544.7,78.6 L544.3,81.4 L544.8,84.3 L545.1,87.2 L544.8,90.0 L544.2,92.8 L544.8,95.7 L544.7,98.6 L544.0,101.4 L544.2,104.2 L544.6,107.1 L544.4,109.9 L544.6,112.8 L544.3,115.7 L544.5,118.5 L544.5,121.4 L544.9,124.2 L544.5,127.1 L544.7,130.0 L545.2,132.8 L544.8,135.7 L544.2,138.4 L544.9,141.1 L544.9,143.8 L544.9,146.5 L544.2,149.2 L543.9,151.9 L543.9,154.6 L544.2,157.3 L544.0,160.0 L544.0,163.5 L543.5,167.0 L543.9,170.3" fill="none" stroke="#111" stroke-width="0.95" stroke-linejoin="round" stroke-linecap="round"/>
<path d="M593.4,24.5 L590.8,26.8 L587.4,28.0 L584.6,30.0 L582.1,31.5 L579.7,33.2 L577.1,34.5 L574.7,36.2 L572.6,38.3 L570.2,40.0 L568.4,42.4 L566.7,44.6 L565.4,47.0 L563.7,50.0 L563.4,52.9 L562.1,55.6 L562.0,58.6 L561.9,61.5 L560.8,64.3 L560.3,67.1 L559.5,70.0 L558.8,72.9 L557.7,75.7 L557.6,78.7 L556.3,81.4 L556.0,84.3 L555.6,87.3 L554.2,90.0 L553.4,92.8 L551.8,95.5 L551.5,98.7 L550.0,101.4 L549.4,104.4 L548.2,107.1 L547.4,110.0 L546.8,112.8 L546.1,115.6 L545.7,118.5" fill="none" stroke="#111" stroke-width="0.95" stroke-linejoin="round" stroke-linecap="round"/>
<path d="M620.8,36.9 L617.9,37.0 L615.3,38.2 L612.4,38.5 L609.6,38.7 L606.3,39.7 L603.1,40.8 L599.6,41.2 L596.9,42.4 L594.4,44.0 L592.0,45.6 L589.6,47.4 L587.4,49.1 L584.5,49.6 L582.1,50.9 L579.7,52.4 L577.2,54.1 L574.6,55.5 L572.2,57.4 L569.1,59.3 L566.0,61.1" fill="none" stroke="#111" stroke-width="0.95" stroke-linejoin="round" stroke-linecap="round"/>
<path d="M574.7,44.9 L572.3,46.4 L569.7,47.4 L567.3,49.2 L564.7,50.5 L562.0,51.7 L558.7,53.5 L555.1,54.3 L552.3,55.6 L549.3,56.3 L546.5,57.7" fill="none" stroke="#111" stroke-width="0.95" stroke-linejoin="round" stroke-linecap="round"/>
<path d="M565.4,50.0 L564.7,53.4 L564.5,56.9 L565.4,60.3" fill="none" stroke="#111" stroke-width="0.95" stroke-linejoin="round" stroke-linecap="round"/>
<path d="M526.1,59.4 L526.9,62.1 L528.1,64.6 L529.4,67.1 L531.1,69.3 L532.2,71.7 L533.7,74.0 L535.5,77.4 L537.1,80.8 L538.1,84.4 L539.7,87.7 L540.5,91.2 L541.4,94.6 L542.5,97.9 L543.1,101.4 L543.8,104.3 L544.3,107.3 L545.7,110.0 L547.1,112.7 L547.6,115.8 L549.1,118.5 L550.2,121.3 L550.5,124.2 L550.8,127.1 L551.9,129.9 L552.3,132.9 L553.4,135.7 L553.8,138.7 L554.9,141.4 L556.0,144.2 L557.4,146.7 L558.5,149.4 L562.8,152.0" fill="none" stroke="#111" stroke-width="0.95" stroke-linejoin="round" stroke-linecap="round"/>
<path d="M538.8,56.9 L539.2,60.4 L540.5,63.7 L541.0,66.5 L541.4,69.4 L541.4,72.3 L541.8,75.8 L543.1,79.1 L543.0,82.0 L542.9,84.8 L543.1,87.7" fill="none" stroke="#111" stroke-width="0.95" stroke-linejoin="round" stroke-linecap="round"/>
<path d="M501.1,74.0 L503.6,75.3 L506.0,76.7 L508.8,77.4 L511.7,78.5 L514.4,80.0 L517.4,80.8 L520.2,82.2 L523.0,83.5 L526.0,84.3 L529.4,85.1 L532.8,86.0 L536.3,85.4 L539.7,84.3 L544.0,83.4" fill="none" stroke="#111" stroke-width="0.95" stroke-linejoin="round" stroke-linecap="round"/>
<path d="M480.5,106.0 L483.6,105.8 L486.7,105.3 L489.9,105.2 L493.5,106.0 L496.9,107.4 L498.5,109.5 L500.7,111.1 L502.0,113.4 L503.0,115.9 L505.2,117.8 L506.3,120.3 L508.5,123.5 L509.7,127.1 L511.4,130.4 L512.3,134.0 L514.5,136.9 L517.4,139.1 L519.8,140.4 L522.2,141.6 L524.3,143.4 L527.3,143.8 L530.1,144.7 L532.8,146.0 L535.6,146.8 L538.5,147.3 L541.4,147.7" fill="none" stroke="#111" stroke-width="0.95" stroke-linejoin="round" stroke-linecap="round"/>
<path d="M501.1,125.4 L503.8,124.5 L506.3,123.4 L508.8,122.0 L511.5,120.4 L514.6,119.8 L517.4,118.5 L520.2,117.2 L523.3,116.6 L526.0,115.1 L529.0,114.0 L531.9,112.6 L534.6,110.8 L537.8,109.1 L541.4,108.3" fill="none" stroke="#111" stroke-width="0.95" stroke-linejoin="round" stroke-linecap="round"/>
<path d="M505.4,118.5 L507.4,121.1 L509.7,123.4 L512.3,125.4 L514.3,127.5 L517.1,128.5 L519.1,130.5 L521.6,132.0 L524.0,133.6 L526.0,135.7 L528.6,137.0 L530.3,139.4 L532.8,140.8 L534.9,142.5 L537.3,143.8 L539.7,145.1" fill="none" stroke="#111" stroke-width="0.95" stroke-linejoin="round" stroke-linecap="round"/>
<path d="M490.0,158.0 L493.0,157.2 L495.8,155.8 L498.6,154.5 L501.4,153.4 L504.1,152.4 L507.1,152.0 L509.8,150.7 L512.9,150.5 L515.7,149.4 L518.5,148.5 L521.4,148.1 L524.3,147.7 L527.1,147.1 L529.9,146.0 L532.8,146.0" fill="none" stroke="#111" stroke-width="0.95" stroke-linejoin="round" stroke-linecap="round"/>
<path d="M510.6,158.0 L512.1,155.3 L514.0,152.8 L515.5,150.4 L517.6,148.4 L519.1,146.0 L520.7,143.6 L522.4,141.3 L524.3,139.1 L526.4,136.5 L527.7,133.4 L529.4,130.5 L531.5,127.9 L533.0,124.9 L534.6,122.0 L535.3,118.9 L536.8,116.2 L538.0,113.4 L538.8,110.4 L540.0,107.5 L540.4,104.4 L541.4,101.4 L542.2,98.6 L542.6,95.7 L543.1,92.8" fill="none" stroke="#111" stroke-width="0.95" stroke-linejoin="round" stroke-linecap="round"/>
<path d="M533.7,123.7 L534.5,127.1 L534.6,130.5 L535.1,133.2 L536.3,135.7 L539.7,139.1 L543.1,140.0" fill="none" stroke="#111" stroke-width="0.95" stroke-linejoin="round" stroke-linecap="round"/>
<path d="M584.2,59.4 L581.6,61.2 L578.4,62.0 L575.7,63.7 L572.4,65.7 L568.8,67.1 L567.6,70.0 L565.4,72.3 L565.3,75.7 L564.5,79.1 L564.2,82.0 L564.0,84.8 L564.5,87.7 L564.8,90.6 L564.0,93.4 L563.7,96.3 L563.1,99.1 L562.2,101.9 L562.0,104.8 L561.8,107.7 L560.9,110.5 L560.3,113.4 L559.6,116.3 L558.2,119.0 L557.7,122.0 L556.6,125.5 L555.1,128.8 L553.0,131.1 L551.7,134.0 L548.3,137.4" fill="none" stroke="#111" stroke-width="0.95" stroke-linejoin="round" stroke-linecap="round"/>
<path d="M591.1,72.3 L590.5,75.8 L589.4,79.1 L588.4,82.7 L586.8,86.0 L585.2,88.1 L583.9,90.5 L582.5,92.8 L580.5,94.9 L577.9,96.1 L575.7,98.0 L572.9,99.0 L569.9,98.8 L567.1,99.7 L564.2,100.1 L561.3,100.5 L558.5,101.4 L555.0,103.0 L551.7,104.8 L549.2,106.7 L546.5,108.3" fill="none" stroke="#111" stroke-width="0.95" stroke-linejoin="round" stroke-linecap="round"/>
<path d="M581.7,98.0 L580.8,103.1 L578.3,104.9 L575.7,106.5 L572.3,108.4 L568.8,110.0 L565.9,112.2 L563.7,115.1 L562.3,117.7 L559.9,119.4 L558.5,122.0 L557.2,124.8 L555.1,127.1 L551.7,130.5" fill="none" stroke="#111" stroke-width="0.95" stroke-linejoin="round" stroke-linecap="round"/>
<path d="M618.3,117.2 L615.1,116.2 L612.1,114.7 L608.9,113.7 L605.8,112.2 L602.7,113.7 L600.0,116.0 L596.4,117.2 L592.8,118.5 L589.4,119.1 L586.0,119.4 L582.7,118.1 L579.1,117.7 L575.7,118.4 L572.2,118.5 L568.8,120.3 L565.4,122.0 L561.9,123.7 L558.5,125.4 L555.0,126.8 L551.7,128.8 L548.6,129.4 L545.7,130.5" fill="none" stroke="#111" stroke-width="0.95" stroke-linejoin="round" stroke-linecap="round"/>
<path d="M558.5,74.0 L561.2,73.3 L563.7,72.3 L565.3,69.6 L567.1,67.1" fill="none" stroke="#111" stroke-width="0.95" stroke-linejoin="round" stroke-linecap="round"/>
<path d="M556.8,89.4 L555.3,92.1 L553.4,94.6 L552.4,97.3 L550.8,99.7 L549.2,102.1 L548.3,104.8 L546.5,108.3" fill="none" stroke="#111" stroke-width="0.95" stroke-linejoin="round" stroke-linecap="round"/>
<path d="M478.6,213.6 L481.1,212.2 L483.6,210.8 L485.8,208.7 L488.4,207.5 L490.8,205.6 L493.5,204.1 L495.8,202.0 L498.0,199.8 L500.7,198.3 L503.1,196.7 L505.8,195.6 L507.9,193.5 L510.3,191.9 L512.9,190.7 L515.3,189.3 L517.9,188.4 L520.5,187.3 L522.6,185.4 L525.2,184.5 L527.7,183.0 L530.4,181.9 L533.1,180.9 L535.9,179.9 L539.0,178.4 L542.0,176.9 L542.6,173.5 L543.9,170.3" fill="none" stroke="#111" stroke-width="0.95" stroke-linejoin="round" stroke-linecap="round"/>
<path d="M493.9,215.2 L494.5,212.1 L496.9,211.0 L499.3,209.9 L502.1,209.8 L504.4,208.7 L506.8,207.5 L509.0,205.6 L511.9,204.9 L513.9,202.6 L516.5,201.3 L519.0,199.9 L521.2,198.4 L522.9,196.4 L524.7,194.6 L526.3,192.5 L528.2,190.7 L530.0,188.4 L532.4,186.7 L534.4,184.5 L536.6,181.9 L539.3,179.8 L542.0,177.8 L542.8,174.0 L543.9,170.3" fill="none" stroke="#111" stroke-width="0.95" stroke-linejoin="round" stroke-linecap="round"/>
<path d="M516.0,198.3 L518.8,196.3 L522.1,195.1 L525.2,193.7" fill="none" stroke="#111" stroke-width="0.95" stroke-linejoin="round" stroke-linecap="round"/>
<path d="M532.8,196.8 L534.1,193.8 L535.1,190.7 L535.9,187.6 L537.4,185.0 L539.1,182.5 L540.5,179.9" fill="none" stroke="#111" stroke-width="0.95" stroke-linejoin="round" stroke-linecap="round"/>
<path d="M534.4,242.8 L534.3,240.2 L533.8,237.6 L534.3,234.9 L534.0,232.3 L534.2,229.6 L534.3,227.0 L533.8,224.4 L534.2,221.3 L534.9,218.3 L535.6,215.2 L535.9,212.1 L536.7,209.6 L537.5,207.1 L538.9,204.9 L540.0,202.5 L540.5,199.9 L541.6,196.9 L542.3,193.8 L543.2,190.8 L543.6,187.6 L543.8,184.5 L543.8,181.5 L543.6,178.4 L543.6,175.7 L543.6,173.0 L543.9,170.3" fill="none" stroke="#111" stroke-width="0.95" stroke-linejoin="round" stroke-linecap="round"/>
<path d="M541.1,242.8 L541.4,239.7 L541.0,236.6 L541.6,233.6 L542.1,230.5 L542.0,227.4 L542.7,224.9 L543.2,222.3 L543.3,219.7 L544.0,217.2 L544.5,214.6 L545.1,212.1 L546.0,209.1 L546.6,206.0 L547.6,203.0 L548.2,199.9 L548.7,196.8 L547.9,193.8 L548.4,190.7 L548.2,187.6 L547.5,184.4 L546.0,181.5 L545.1,178.4 L544.7,175.7 L544.8,172.9 L543.9,170.3" fill="none" stroke="#111" stroke-width="0.95" stroke-linejoin="round" stroke-linecap="round"/>
<path d="M583.4,242.8 L580.8,241.3 L578.8,238.9 L576.3,237.3 L574.2,235.1 L572.9,232.3 L571.6,229.5 L569.6,227.1 L568.1,224.4 L566.8,222.1 L566.3,219.5 L565.4,217.0 L564.6,214.5 L563.5,212.1 L563.5,209.1 L563.7,206.0 L563.9,202.9 L563.5,199.9 L563.0,196.8 L562.4,193.8 L562.0,190.7 L560.3,187.8 L557.6,185.8 L555.8,183.0 L553.9,180.8 L551.6,179.0 L549.7,176.9 L548.0,174.5 L545.5,172.8 L543.9,170.3" fill="none" stroke="#111" stroke-width="0.95" stroke-linejoin="round" stroke-linecap="round"/>
<path d="M581.9,215.2 L581.6,212.0 L580.2,209.1 L579.1,206.1 L578.8,202.9 L577.8,199.9 L577.2,196.8 L576.0,193.9 L575.8,190.7 L573.2,189.2 L570.6,187.7 L568.1,186.1 L565.1,185.1 L562.0,184.5" fill="none" stroke="#111" stroke-width="0.95" stroke-linejoin="round" stroke-linecap="round"/>
<path d="M606.4,206.0 L604.0,203.0 L601.8,199.9 L599.4,198.6 L597.0,197.1 L595.0,195.0 L592.6,193.7 L589.6,192.6 L586.5,192.5 L583.4,192.2 L580.4,191.0 L577.3,190.7 L574.2,190.0 L571.1,189.5 L568.0,188.8 L565.0,187.6 L562.9,185.8 L560.6,184.3 L558.2,182.9 L555.8,181.5 L553.7,179.5 L551.8,177.3 L549.7,175.3 L546.6,173.0 L543.9,170.3" fill="none" stroke="#111" stroke-width="0.95" stroke-linejoin="round" stroke-linecap="round"/>
<path d="M666.2,202.9 L663.5,202.9 L661.1,204.1 L658.5,204.5 L656.4,202.8 L654.4,201.1 L652.3,199.6 L649.9,198.4 L647.8,196.8 L645.3,196.1 L642.9,194.9 L640.3,194.4 L638.1,192.8 L635.5,192.2 L632.4,191.8 L629.5,190.7 L626.3,190.8 L623.3,190.0 L620.2,189.5 L617.1,189.1 L614.1,188.3 L611.0,187.6 L607.8,186.9 L604.7,186.1 L601.8,184.5 L598.8,183.3 L595.6,182.7 L592.6,181.5 L589.4,180.7 L586.4,179.6 L583.4,178.4 L580.3,177.6 L577.3,176.9 L574.3,175.9 L571.2,175.3 L568.1,174.8 L565.0,174.7 L562.0,173.7 L558.9,173.8 L555.8,173.4 L552.8,174.3 L549.7,173.8 L547.0,171.7 L543.9,170.3" fill="none" stroke="#111" stroke-width="0.95" stroke-linejoin="round" stroke-linecap="round"/>
<path d="M617.1,199.9 L616.0,196.6 L614.1,193.7 L612.8,191.2 L611.0,189.1" fill="none" stroke="#111" stroke-width="0.95" stroke-linejoin="round" stroke-linecap="round"/>
<path d="M601.8,187.6 L599.5,185.3 L598.0,182.2 L595.7,179.9 L592.7,178.8 L589.4,178.4 L586.5,176.9 L583.4,177.4 L580.4,176.4 L577.3,176.9" fill="none" stroke="#111" stroke-width="0.95" stroke-linejoin="round" stroke-linecap="round"/>
<path d="M538.8,173.6 C538.6,170 540.5,166.6 543.9,166.4 C547.5,166.3 549.2,169.5 548.9,173.4 C545.5,174 542,174 538.8,173.6 Z" fill="#000"/>
<line x1="623" y1="234.3" x2="660" y2="234.3" stroke="#222" stroke-width="1.3"/>
<text x="3.8" y="22" font-size="19" text-anchor="start" fill="#000" style="font-family:'Liberation Sans',sans-serif;font-weight:bold;stroke:currentColor;stroke-width:0.3px;" textLength="10" lengthAdjust="spacingAndGlyphs">a</text>
<text x="3.5" y="300.5" font-size="18" text-anchor="start" fill="#111" style="font-family:'Liberation Sans',sans-serif;font-weight:bold;stroke:currentColor;stroke-width:0.3px;" >b</text>
<text x="255.1" y="300.7" font-size="18" text-anchor="start" fill="#111" style="font-family:'Liberation Sans',sans-serif;font-weight:bold;stroke:currentColor;stroke-width:0.3px;" >c</text>
<text x="473.6" y="300.7" font-size="18" text-anchor="start" fill="#111" style="font-family:'Liberation Sans',sans-serif;font-weight:bold;stroke:currentColor;stroke-width:0.3px;" >d</text>
<text x="3.1" y="479.4" font-size="18" text-anchor="start" fill="#111" style="font-family:'Liberation Sans',sans-serif;font-weight:bold;stroke:currentColor;stroke-width:0.3px;" >e</text>
<text x="255.1" y="479.3" font-size="18" text-anchor="start" fill="#111" style="font-family:'Liberation Sans',sans-serif;font-weight:bold;stroke:currentColor;stroke-width:0.3px;" >f</text>
<text x="473.3" y="478.9" font-size="18" text-anchor="start" fill="#111" style="font-family:'Liberation Sans',sans-serif;font-weight:bold;stroke:currentColor;stroke-width:0.3px;" >g</text>
<text x="92.5" y="274.5" font-size="17.3" text-anchor="start" fill="#000" style="font-family:'Liberation Sans',sans-serif;font-weight:bold;stroke:currentColor;stroke-width:0.3px;" >WT</text>
<text y="275.1" style="font-family:'Liberation Sans',sans-serif;font-weight:bold;stroke:currentColor;stroke-width:0.3px;" fill="#000" font-size="17.3"><tspan x="229.3">K</tspan><tspan font-size="10.5" dy="-5.2">b</tspan><tspan dy="5.2" dx="0.3">D</tspan><tspan font-size="10.5" dx="0.5" dy="-5.2">b</tspan><tspan font-size="9" dx="4.2" dy="-0.5">-/-</tspan></text>
<text y="275.1" style="font-family:'Liberation Sans',sans-serif;font-weight:bold;stroke:currentColor;stroke-width:0.3px;" fill="#000" font-size="17.3"><tspan x="367.2">β2M</tspan><tspan font-size="9" dx="5.6" dy="-6">-/-</tspan></text>
<text y="275.1" style="font-family:'Liberation Sans',sans-serif;font-weight:bold;stroke:currentColor;stroke-width:0.3px;" fill="#000" font-size="17.3"><tspan x="520.5">TAP</tspan><tspan font-size="9" dx="3.5" dy="-6">-/-</tspan></text>
<line x1="49.4" y1="310.4" x2="49.4" y2="418.8" stroke="#333" stroke-width="1.4"/>
<line x1="46.1" y1="418.20" x2="49.4" y2="418.20" stroke="#333" stroke-width="1.2"/>
<text x="44.8" y="421.9" font-size="10.3" text-anchor="end" fill="#222" style="font-family:'Liberation Sans',sans-serif;font-weight:bold;stroke:currentColor;stroke-width:0.3px;" >0</text>
<line x1="46.1" y1="396.76" x2="49.4" y2="396.76" stroke="#333" stroke-width="1.2"/>
<text x="44.8" y="400.46" font-size="10.3" text-anchor="end" fill="#222" style="font-family:'Liberation Sans',sans-serif;font-weight:bold;stroke:currentColor;stroke-width:0.3px;" >500</text>
<line x1="46.1" y1="375.32" x2="49.4" y2="375.32" stroke="#333" stroke-width="1.2"/>
<text x="44.8" y="379.02" font-size="10.3" text-anchor="end" fill="#222" style="font-family:'Liberation Sans',sans-serif;font-weight:bold;stroke:currentColor;stroke-width:0.3px;" >1000</text>
<line x1="46.1" y1="353.88" x2="49.4" y2="353.88" stroke="#333" stroke-width="1.2"/>
<text x="44.8" y="357.58" font-size="10.3" text-anchor="end" fill="#222" style="font-family:'Liberation Sans',sans-serif;font-weight:bold;stroke:currentColor;stroke-width:0.3px;" >1500</text>
<line x1="46.1" y1="332.44" x2="49.4" y2="332.44" stroke="#333" stroke-width="1.2"/>
<text x="44.8" y="336.14" font-size="10.3" text-anchor="end" fill="#222" style="font-family:'Liberation Sans',sans-serif;font-weight:bold;stroke:currentColor;stroke-width:0.3px;" >2000</text>
<line x1="46.1" y1="311.00" x2="49.4" y2="311.00" stroke="#333" stroke-width="1.2"/>
<text x="44.8" y="314.7" font-size="10.3" text-anchor="end" fill="#222" style="font-family:'Liberation Sans',sans-serif;font-weight:bold;stroke:currentColor;stroke-width:0.3px;" >2500</text>
<line x1="48.699999999999996" y1="418.2" x2="211.3" y2="418.2" stroke="#333" stroke-width="1.4"/>
<text x="61.8" y="430.8" font-size="9.9" text-anchor="start" fill="#222" style="font-family:'Liberation Sans',sans-serif;font-weight:bold;stroke:currentColor;stroke-width:0.3px;" >WT</text>
<text y="430.8" style="font-family:'Liberation Sans',sans-serif;font-weight:bold;stroke:currentColor;stroke-width:0.3px;" fill="#222" font-size="9.9"><tspan x="90.3">K</tspan><tspan font-size="7" dy="-4.3">b</tspan><tspan dy="4.3" dx="0.3">D</tspan><tspan font-size="7" dx="1" dy="-4.3">b</tspan><tspan font-size="7" dx="3.3" dy="0" font-weight="normal" fill="#444">-/-</tspan></text>
<text y="430.8" style="font-family:'Liberation Sans',sans-serif;font-weight:bold;stroke:currentColor;stroke-width:0.3px;" fill="#222" font-size="9.9"><tspan x="133.6">β2M</tspan><tspan font-size="7" dx="4.2" dy="-4.8" font-weight="normal" fill="#444">-/-</tspan></text>
<text y="430.8" style="font-family:'Liberation Sans',sans-serif;font-weight:bold;stroke:currentColor;stroke-width:0.3px;" fill="#222" font-size="9.9"><tspan x="175.2">TAP</tspan><tspan font-size="7" dx="4" dy="-4.8" font-weight="normal" fill="#444">-/-</tspan></text>
<line x1="69.6" y1="329.3" x2="69.6" y2="333.4" stroke="#555" stroke-width="1"/>
<line x1="62.89999999999999" y1="329.3" x2="76.3" y2="329.3" stroke="#555" stroke-width="1"/>
<line x1="62.89999999999999" y1="333.4" x2="76.3" y2="333.4" stroke="#555" stroke-width="1"/>
<circle cx="58.7" cy="328.7" r="2.2" fill="#111"/>
<circle cx="69.3" cy="325" r="2.2" fill="#111"/>
<circle cx="79.9" cy="329.3" r="2.2" fill="#111"/>
<circle cx="64" cy="334.3" r="2.2" fill="#111"/>
<circle cx="69.3" cy="335.3" r="2.2" fill="#111"/>
<circle cx="75" cy="334.5" r="2.2" fill="#111"/>
<line x1="55.699999999999996" y1="331.4" x2="83.5" y2="331.4" stroke="#111" stroke-width="1.5"/>
<line x1="110.0" y1="346.1" x2="110.0" y2="358.3" stroke="#555" stroke-width="1"/>
<line x1="103.3" y1="346.1" x2="116.7" y2="346.1" stroke="#555" stroke-width="1"/>
<line x1="103.3" y1="358.3" x2="116.7" y2="358.3" stroke="#555" stroke-width="1"/>
<rect x="107.8" y="335.6" width="4" height="4" fill="#111"/>
<rect x="104.7" y="343.7" width="4" height="4" fill="#111"/>
<rect x="110.9" y="344.4" width="4" height="4" fill="#111"/>
<rect x="104.7" y="364.9" width="4" height="4" fill="#111"/>
<rect x="110.9" y="363.8" width="4" height="4" fill="#111"/>
<line x1="96.1" y1="352.4" x2="123.9" y2="352.4" stroke="#111" stroke-width="1.5"/>
<line x1="150.2" y1="337.4" x2="150.2" y2="353.2" stroke="#555" stroke-width="1"/>
<line x1="143.5" y1="337.4" x2="156.89999999999998" y2="337.4" stroke="#555" stroke-width="1"/>
<line x1="143.5" y1="353.2" x2="156.89999999999998" y2="353.2" stroke="#555" stroke-width="1"/>
<path d="M144.79999999999998,333.5 L149.6,333.5 L147.2,337.9 Z" fill="#111"/>
<path d="M151.29999999999998,336.9 L156.1,336.9 L153.7,341.29999999999995 Z" fill="#111"/>
<path d="M147.79999999999998,359.7 L152.6,359.7 L150.2,364.09999999999997 Z" fill="#111"/>
<line x1="136.29999999999998" y1="345.2" x2="164.1" y2="345.2" stroke="#111" stroke-width="1.5"/>
<line x1="190.8" y1="335.3" x2="190.8" y2="352.4" stroke="#555" stroke-width="1"/>
<line x1="184.10000000000002" y1="335.3" x2="197.5" y2="335.3" stroke="#555" stroke-width="1"/>
<line x1="184.10000000000002" y1="352.4" x2="197.5" y2="352.4" stroke="#555" stroke-width="1"/>
<path d="M190.7,313.4 L193.5,316.2 L190.7,319.0 L187.89999999999998,316.2 Z" fill="#111"/>
<path d="M190.7,324.0 L193.5,326.8 L190.7,329.6 L187.89999999999998,326.8 Z" fill="#111"/>
<path d="M190.7,337.7 L193.5,340.5 L190.7,343.3 L187.89999999999998,340.5 Z" fill="#111"/>
<path d="M187.3,347.09999999999997 L190.10000000000002,349.9 L187.3,352.7 L184.5,349.9 Z" fill="#111"/>
<path d="M193.8,352.0 L196.60000000000002,354.8 L193.8,357.6 L191.0,354.8 Z" fill="#111"/>
<path d="M190.7,371.59999999999997 L193.5,374.4 L190.7,377.2 L187.89999999999998,374.4 Z" fill="#111"/>
<line x1="176.9" y1="343.6" x2="204.70000000000002" y2="343.6" stroke="#111" stroke-width="1.5"/>
<line x1="69.3" y1="318.3" x2="108.8" y2="318.3" stroke="#444" stroke-width="0.9"/>
<text x="90" y="317.4" font-size="11.5" text-anchor="middle" fill="#3a3a3a" style="font-family:'Liberation Sans',sans-serif;" >**</text>
<text x="0" y="0" transform="translate(10.4,363.7) rotate(-90)" font-size="11.6" text-anchor="middle" textLength="118" lengthAdjust="spacingAndGlyphs" fill="#222" style="font-family:'Liberation Sans',sans-serif;font-weight:bold;stroke:currentColor;stroke-width:0.3px;">Dendritic Length [µm]</text>
<line x1="49.4" y1="489.6" x2="49.4" y2="598.7" stroke="#333" stroke-width="1.4"/>
<line x1="46.1" y1="598.10" x2="49.4" y2="598.10" stroke="#333" stroke-width="1.2"/>
<text x="44.8" y="601.8000000000001" font-size="10.3" text-anchor="end" fill="#222" style="font-family:'Liberation Sans',sans-serif;font-weight:bold;stroke:currentColor;stroke-width:0.3px;" >0</text>
<line x1="46.1" y1="580.12" x2="49.4" y2="580.12" stroke="#333" stroke-width="1.2"/>
<text x="44.8" y="583.8166666666667" font-size="10.3" text-anchor="end" fill="#222" style="font-family:'Liberation Sans',sans-serif;font-weight:bold;stroke:currentColor;stroke-width:0.3px;" >100</text>
<line x1="46.1" y1="562.13" x2="49.4" y2="562.13" stroke="#333" stroke-width="1.2"/>
<text x="44.8" y="565.8333333333334" font-size="10.3" text-anchor="end" fill="#222" style="font-family:'Liberation Sans',sans-serif;font-weight:bold;stroke:currentColor;stroke-width:0.3px;" >200</text>
<line x1="46.1" y1="544.15" x2="49.4" y2="544.15" stroke="#333" stroke-width="1.2"/>
<text x="44.8" y="547.85" font-size="10.3" text-anchor="end" fill="#222" style="font-family:'Liberation Sans',sans-serif;font-weight:bold;stroke:currentColor;stroke-width:0.3px;" >300</text>
<line x1="46.1" y1="526.17" x2="49.4" y2="526.17" stroke="#333" stroke-width="1.2"/>
<text x="44.8" y="529.8666666666668" font-size="10.3" text-anchor="end" fill="#222" style="font-family:'Liberation Sans',sans-serif;font-weight:bold;stroke:currentColor;stroke-width:0.3px;" >400</text>
<line x1="46.1" y1="508.18" x2="49.4" y2="508.18" stroke="#333" stroke-width="1.2"/>
<text x="44.8" y="511.8833333333333" font-size="10.3" text-anchor="end" fill="#222" style="font-family:'Liberation Sans',sans-serif;font-weight:bold;stroke:currentColor;stroke-width:0.3px;" >500</text>
<line x1="46.1" y1="490.20" x2="49.4" y2="490.20" stroke="#333" stroke-width="1.2"/>
<text x="44.8" y="493.90000000000003" font-size="10.3" text-anchor="end" fill="#222" style="font-family:'Liberation Sans',sans-serif;font-weight:bold;stroke:currentColor;stroke-width:0.3px;" >600</text>
<line x1="48.699999999999996" y1="598.1" x2="211.3" y2="598.1" stroke="#333" stroke-width="1.4"/>
<text x="61.8" y="610.7" font-size="9.9" text-anchor="start" fill="#222" style="font-family:'Liberation Sans',sans-serif;font-weight:bold;stroke:currentColor;stroke-width:0.3px;" >WT</text>
<text y="610.7" style="font-family:'Liberation Sans',sans-serif;font-weight:bold;stroke:currentColor;stroke-width:0.3px;" fill="#222" font-size="9.9"><tspan x="90.3">K</tspan><tspan font-size="7" dy="-4.3">b</tspan><tspan dy="4.3" dx="0.3">D</tspan><tspan font-size="7" dx="1" dy="-4.3">b</tspan><tspan font-size="7" dx="3.3" dy="0" font-weight="normal" fill="#444">-/-</tspan></text>
<text y="610.7" style="font-family:'Liberation Sans',sans-serif;font-weight:bold;stroke:currentColor;stroke-width:0.3px;" fill="#222" font-size="9.9"><tspan x="133.6">β2M</tspan><tspan font-size="7" dx="4.2" dy="-4.8" font-weight="normal" fill="#444">-/-</tspan></text>
<text y="610.7" style="font-family:'Liberation Sans',sans-serif;font-weight:bold;stroke:currentColor;stroke-width:0.3px;" fill="#222" font-size="9.9"><tspan x="175.2">TAP</tspan><tspan font-size="7" dx="4" dy="-4.8" font-weight="normal" fill="#444">-/-</tspan></text>
<line x1="69.5" y1="521.1" x2="69.5" y2="527.4" stroke="#555" stroke-width="1"/>
<line x1="62.8" y1="521.1" x2="76.2" y2="521.1" stroke="#555" stroke-width="1"/>
<line x1="62.8" y1="527.4" x2="76.2" y2="527.4" stroke="#555" stroke-width="1"/>
<circle cx="69.3" cy="514" r="2.2" fill="#111"/>
<circle cx="75.9" cy="518.9" r="2.2" fill="#111"/>
<circle cx="63.1" cy="523.4" r="2.2" fill="#111"/>
<circle cx="69.3" cy="523.6" r="2.2" fill="#111"/>
<circle cx="72.7" cy="530.2" r="2.2" fill="#111"/>
<circle cx="66" cy="536.1" r="2.2" fill="#111"/>
<line x1="55.6" y1="524.6" x2="83.4" y2="524.6" stroke="#111" stroke-width="1.5"/>
<line x1="110.0" y1="516.4" x2="110.0" y2="527.4" stroke="#555" stroke-width="1"/>
<line x1="103.3" y1="516.4" x2="116.7" y2="516.4" stroke="#555" stroke-width="1"/>
<line x1="103.3" y1="527.4" x2="116.7" y2="527.4" stroke="#555" stroke-width="1"/>
<rect x="107.8" y="497" width="4" height="4" fill="#111"/>
<rect x="107.8" y="519.8" width="4" height="4" fill="#111"/>
<rect x="104.7" y="527.6" width="4" height="4" fill="#111"/>
<rect x="110.9" y="527.6" width="4" height="4" fill="#111"/>
<rect x="107.8" y="535" width="4" height="4" fill="#111"/>
<line x1="96.1" y1="523.3" x2="123.9" y2="523.3" stroke="#111" stroke-width="1.5"/>
<line x1="150.3" y1="518.4" x2="150.3" y2="542.6" stroke="#555" stroke-width="1"/>
<line x1="143.60000000000002" y1="518.4" x2="157.0" y2="518.4" stroke="#555" stroke-width="1"/>
<line x1="143.60000000000002" y1="542.6" x2="157.0" y2="542.6" stroke="#555" stroke-width="1"/>
<path d="M147.9,504.4 L152.70000000000002,504.4 L150.3,508.79999999999995 Z" fill="#111"/>
<path d="M147.9,536 L152.70000000000002,536 L150.3,540.4 Z" fill="#111"/>
<path d="M147.9,544.1 L152.70000000000002,544.1 L150.3,548.5 Z" fill="#111"/>
<line x1="136.4" y1="530.2" x2="164.20000000000002" y2="530.2" stroke="#111" stroke-width="1.5"/>
<line x1="190.8" y1="526.1" x2="190.8" y2="534.8" stroke="#555" stroke-width="1"/>
<line x1="184.10000000000002" y1="526.1" x2="197.5" y2="526.1" stroke="#555" stroke-width="1"/>
<line x1="184.10000000000002" y1="534.8" x2="197.5" y2="534.8" stroke="#555" stroke-width="1"/>
<path d="M190.7,507.09999999999997 L193.5,509.9 L190.7,512.6999999999999 L187.89999999999998,509.9 Z" fill="#111"/>
<path d="M184.2,529.6 L187.0,532.4 L184.2,535.1999999999999 L181.39999999999998,532.4 Z" fill="#111"/>
<path d="M190.7,529.9000000000001 L193.5,532.7 L190.7,535.5 L187.89999999999998,532.7 Z" fill="#111"/>
<path d="M197.3,527.7 L200.10000000000002,530.5 L197.3,533.3 L194.5,530.5 Z" fill="#111"/>
<path d="M193.9,533.3000000000001 L196.70000000000002,536.1 L193.9,538.9 L191.1,536.1 Z" fill="#111"/>
<path d="M187.6,538.3000000000001 L190.4,541.1 L187.6,543.9 L184.79999999999998,541.1 Z" fill="#111"/>
<line x1="176.9" y1="530.2" x2="204.70000000000002" y2="530.2" stroke="#111" stroke-width="1.5"/>
<text x="0" y="0" transform="translate(12.4,543.3) rotate(-90)" font-size="11.6" text-anchor="middle" textLength="116.2" lengthAdjust="spacingAndGlyphs" fill="#222" style="font-family:'Liberation Sans',sans-serif;font-weight:bold;stroke:currentColor;stroke-width:0.3px;">Dendritic Length [µm]</text>
<line x1="297.8" y1="309.29999999999995" x2="297.8" y2="418.90000000000003" stroke="#333" stroke-width="1.4"/>
<line x1="294.5" y1="418.30" x2="297.8" y2="418.30" stroke="#333" stroke-width="1.2"/>
<text x="293.2" y="422.0" font-size="10.3" text-anchor="end" fill="#222" style="font-family:'Liberation Sans',sans-serif;font-weight:bold;stroke:currentColor;stroke-width:0.3px;" >0</text>
<line x1="294.5" y1="400.23" x2="297.8" y2="400.23" stroke="#333" stroke-width="1.2"/>
<text x="293.2" y="403.93333333333334" font-size="10.3" text-anchor="end" fill="#222" style="font-family:'Liberation Sans',sans-serif;font-weight:bold;stroke:currentColor;stroke-width:0.3px;" >100</text>
<line x1="294.5" y1="382.17" x2="297.8" y2="382.17" stroke="#333" stroke-width="1.2"/>
<text x="293.2" y="385.8666666666667" font-size="10.3" text-anchor="end" fill="#222" style="font-family:'Liberation Sans',sans-serif;font-weight:bold;stroke:currentColor;stroke-width:0.3px;" >200</text>
<line x1="294.5" y1="364.10" x2="297.8" y2="364.10" stroke="#333" stroke-width="1.2"/>
<text x="293.2" y="367.8" font-size="10.3" text-anchor="end" fill="#222" style="font-family:'Liberation Sans',sans-serif;font-weight:bold;stroke:currentColor;stroke-width:0.3px;" >300</text>
<line x1="294.5" y1="346.03" x2="297.8" y2="346.03" stroke="#333" stroke-width="1.2"/>
<text x="293.2" y="349.73333333333335" font-size="10.3" text-anchor="end" fill="#222" style="font-family:'Liberation Sans',sans-serif;font-weight:bold;stroke:currentColor;stroke-width:0.3px;" >400</text>
<line x1="294.5" y1="327.97" x2="297.8" y2="327.97" stroke="#333" stroke-width="1.2"/>
<text x="293.2" y="331.6666666666667" font-size="10.3" text-anchor="end" fill="#222" style="font-family:'Liberation Sans',sans-serif;font-weight:bold;stroke:currentColor;stroke-width:0.3px;" >500</text>
<line x1="294.5" y1="309.90" x2="297.8" y2="309.90" stroke="#333" stroke-width="1.2"/>
<text x="293.2" y="313.59999999999997" font-size="10.3" text-anchor="end" fill="#222" style="font-family:'Liberation Sans',sans-serif;font-weight:bold;stroke:currentColor;stroke-width:0.3px;" >600</text>
<line x1="297.1" y1="418.3" x2="461.40000000000003" y2="418.3" stroke="#333" stroke-width="1.4"/>
<line x1="297.80" y1="418.3" x2="297.80" y2="421.6" stroke="#333" stroke-width="1.2"/>
<text x="0" y="0" transform="translate(300.00,429.8) rotate(-45)" font-size="10" text-anchor="end" fill="#222" style="font-family:'Liberation Sans',sans-serif;font-weight:bold;stroke:currentColor;stroke-width:0.3px;">0</text>
<line x1="311.37" y1="418.3" x2="311.37" y2="421.6" stroke="#333" stroke-width="1.2"/>
<text x="0" y="0" transform="translate(313.57,429.8) rotate(-45)" font-size="10" text-anchor="end" fill="#222" style="font-family:'Liberation Sans',sans-serif;font-weight:bold;stroke:currentColor;stroke-width:0.3px;">30</text>
<line x1="324.93" y1="418.3" x2="324.93" y2="421.6" stroke="#333" stroke-width="1.2"/>
<text x="0" y="0" transform="translate(327.13,429.8) rotate(-45)" font-size="10" text-anchor="end" fill="#222" style="font-family:'Liberation Sans',sans-serif;font-weight:bold;stroke:currentColor;stroke-width:0.3px;">60</text>
<line x1="338.50" y1="418.3" x2="338.50" y2="421.6" stroke="#333" stroke-width="1.2"/>
<text x="0" y="0" transform="translate(340.70,429.8) rotate(-45)" font-size="10" text-anchor="end" fill="#222" style="font-family:'Liberation Sans',sans-serif;font-weight:bold;stroke:currentColor;stroke-width:0.3px;">90</text>
<line x1="352.07" y1="418.3" x2="352.07" y2="421.6" stroke="#333" stroke-width="1.2"/>
<text x="0" y="0" transform="translate(354.27,429.8) rotate(-45)" font-size="10" text-anchor="end" fill="#222" style="font-family:'Liberation Sans',sans-serif;font-weight:bold;stroke:currentColor;stroke-width:0.3px;">120</text>
<line x1="365.63" y1="418.3" x2="365.63" y2="421.6" stroke="#333" stroke-width="1.2"/>
<text x="0" y="0" transform="translate(367.83,429.8) rotate(-45)" font-size="10" text-anchor="end" fill="#222" style="font-family:'Liberation Sans',sans-serif;font-weight:bold;stroke:currentColor;stroke-width:0.3px;">150</text>
<line x1="379.20" y1="418.3" x2="379.20" y2="421.6" stroke="#333" stroke-width="1.2"/>
<text x="0" y="0" transform="translate(381.40,429.8) rotate(-45)" font-size="10" text-anchor="end" fill="#222" style="font-family:'Liberation Sans',sans-serif;font-weight:bold;stroke:currentColor;stroke-width:0.3px;">180</text>
<line x1="392.77" y1="418.3" x2="392.77" y2="421.6" stroke="#333" stroke-width="1.2"/>
<text x="0" y="0" transform="translate(394.97,429.8) rotate(-45)" font-size="10" text-anchor="end" fill="#222" style="font-family:'Liberation Sans',sans-serif;font-weight:bold;stroke:currentColor;stroke-width:0.3px;">210</text>
<line x1="406.33" y1="418.3" x2="406.33" y2="421.6" stroke="#333" stroke-width="1.2"/>
<text x="0" y="0" transform="translate(408.53,429.8) rotate(-45)" font-size="10" text-anchor="end" fill="#222" style="font-family:'Liberation Sans',sans-serif;font-weight:bold;stroke:currentColor;stroke-width:0.3px;">240</text>
<line x1="419.90" y1="418.3" x2="419.90" y2="421.6" stroke="#333" stroke-width="1.2"/>
<text x="0" y="0" transform="translate(422.10,429.8) rotate(-45)" font-size="10" text-anchor="end" fill="#222" style="font-family:'Liberation Sans',sans-serif;font-weight:bold;stroke:currentColor;stroke-width:0.3px;">270</text>
<line x1="433.47" y1="418.3" x2="433.47" y2="421.6" stroke="#333" stroke-width="1.2"/>
<text x="0" y="0" transform="translate(435.67,429.8) rotate(-45)" font-size="10" text-anchor="end" fill="#222" style="font-family:'Liberation Sans',sans-serif;font-weight:bold;stroke:currentColor;stroke-width:0.3px;">300</text>
<line x1="447.03" y1="418.3" x2="447.03" y2="421.6" stroke="#333" stroke-width="1.2"/>
<text x="0" y="0" transform="translate(449.23,429.8) rotate(-45)" font-size="10" text-anchor="end" fill="#222" style="font-family:'Liberation Sans',sans-serif;font-weight:bold;stroke:currentColor;stroke-width:0.3px;">330</text>
<line x1="460.60" y1="418.3" x2="460.60" y2="421.6" stroke="#333" stroke-width="1.2"/>
<text x="0" y="0" transform="translate(462.80,429.8) rotate(-45)" font-size="10" text-anchor="end" fill="#222" style="font-family:'Liberation Sans',sans-serif;font-weight:bold;stroke:currentColor;stroke-width:0.3px;">360</text>
<text x="310.6" y="458.2" font-size="11.8" textLength="136.4" lengthAdjust="spacingAndGlyphs" fill="#222" style="font-family:'Liberation Sans',sans-serif;font-weight:bold;stroke:currentColor;stroke-width:0.3px;">Distance from soma [µm]</text>
<text x="0" y="0" transform="translate(263.4,362.4) rotate(-90)" font-size="11.6" text-anchor="middle" textLength="113.2" lengthAdjust="spacingAndGlyphs" fill="#222" style="font-family:'Liberation Sans',sans-serif;font-weight:bold;stroke:currentColor;stroke-width:0.3px;">Dendritic length [µm]</text>
<path d="M311.37,407.10 L311.37,411.43 M309.77,407.10 L312.97,407.10 M309.77,411.43 L312.97,411.43" stroke="#a8a8a8" stroke-width="0.9" fill="none"/>
<path d="M324.93,365.00 L324.93,374.04 M323.33,365.00 L326.53,365.00 M323.33,374.04 L326.53,374.04" stroke="#a8a8a8" stroke-width="0.9" fill="none"/>
<path d="M338.50,347.66 L338.50,354.89 M336.90,347.66 L340.10,347.66 M336.90,354.89 L340.10,354.89" stroke="#a8a8a8" stroke-width="0.9" fill="none"/>
<path d="M352.07,357.42 L352.07,364.64 M350.47,357.42 L353.67,357.42 M350.47,364.64 L353.67,364.64" stroke="#a8a8a8" stroke-width="0.9" fill="none"/>
<path d="M365.63,369.16 L365.63,378.19 M364.03,369.16 L367.23,369.16 M364.03,378.19 L367.23,378.19" stroke="#a8a8a8" stroke-width="0.9" fill="none"/>
<path d="M379.20,384.33 L379.20,389.75 M377.60,384.33 L380.80,384.33 M377.60,389.75 L380.80,389.75" stroke="#a8a8a8" stroke-width="0.9" fill="none"/>
<path d="M392.77,400.05 L392.77,404.39 M391.17,400.05 L394.37,400.05 M391.17,404.39 L394.37,404.39" stroke="#a8a8a8" stroke-width="0.9" fill="none"/>
<path d="M406.33,410.17 L406.33,413.06 M404.73,410.17 L407.93,410.17 M404.73,413.06 L407.93,413.06" stroke="#a8a8a8" stroke-width="0.9" fill="none"/>
<path d="M419.90,413.96 L419.90,415.77 M418.30,413.96 L421.50,413.96 M418.30,415.77 L421.50,415.77" stroke="#a8a8a8" stroke-width="0.9" fill="none"/>
<path d="M433.47,417.04 L433.47,417.76 M431.87,417.04 L435.07,417.04 M431.87,417.76 L435.07,417.76" stroke="#a8a8a8" stroke-width="0.9" fill="none"/>
<path d="M447.03,417.58 L447.03,417.94 M445.43,417.58 L448.63,417.58 M445.43,417.94 L448.63,417.94" stroke="#a8a8a8" stroke-width="0.9" fill="none"/>
<path d="M460.60,417.76 L460.60,418.12 M459.00,417.76 L462.20,417.76 M459.00,418.12 L462.20,418.12" stroke="#a8a8a8" stroke-width="0.9" fill="none"/>
<path d="M311.37,409.27 L324.93,369.52 L338.50,351.27 L352.07,361.03 L365.63,373.68 L379.20,387.04 L392.77,402.22 L406.33,411.62 L419.90,414.87 L433.47,417.40 L447.03,417.76 L460.60,417.94" fill="none" stroke="#a8a8a8" stroke-width="1.3"  stroke-linejoin="round"/>
<circle cx="311.37" cy="409.27" r="1.3" fill="#a8a8a8"/>
<circle cx="324.93" cy="369.52" r="1.3" fill="#a8a8a8"/>
<circle cx="338.50" cy="351.27" r="1.3" fill="#a8a8a8"/>
<circle cx="352.07" cy="361.03" r="1.3" fill="#a8a8a8"/>
<circle cx="365.63" cy="373.68" r="1.3" fill="#a8a8a8"/>
<circle cx="379.20" cy="387.04" r="1.3" fill="#a8a8a8"/>
<circle cx="392.77" cy="402.22" r="1.3" fill="#a8a8a8"/>
<circle cx="406.33" cy="411.62" r="1.3" fill="#a8a8a8"/>
<circle cx="419.90" cy="414.87" r="1.3" fill="#a8a8a8"/>
<circle cx="433.47" cy="417.40" r="1.3" fill="#a8a8a8"/>
<circle cx="447.03" cy="417.76" r="1.3" fill="#a8a8a8"/>
<circle cx="460.60" cy="417.94" r="1.3" fill="#a8a8a8"/>
<path d="M311.37,407.10 L311.37,411.43 M309.77,407.10 L312.97,407.10 M309.77,411.43 L312.97,411.43" stroke="#707070" stroke-width="0.9" fill="none"/>
<path d="M324.93,352.00 L324.93,366.45 M323.33,352.00 L326.53,352.00 M323.33,366.45 L326.53,366.45" stroke="#707070" stroke-width="0.9" fill="none"/>
<path d="M338.50,346.03 L338.50,355.07 M336.90,346.03 L340.10,346.03 M336.90,355.07 L340.10,355.07" stroke="#707070" stroke-width="0.9" fill="none"/>
<path d="M352.07,353.98 L352.07,361.21 M350.47,353.98 L353.67,353.98 M350.47,361.21 L353.67,361.21" stroke="#707070" stroke-width="0.9" fill="none"/>
<path d="M365.63,358.86 L365.63,366.09 M364.03,358.86 L367.23,358.86 M364.03,366.09 L367.23,366.09" stroke="#707070" stroke-width="0.9" fill="none"/>
<path d="M379.20,380.72 L379.20,385.06 M377.60,380.72 L380.80,380.72 M377.60,385.06 L380.80,385.06" stroke="#707070" stroke-width="0.9" fill="none"/>
<path d="M392.77,393.91 L392.77,398.25 M391.17,393.91 L394.37,393.91 M391.17,398.25 L394.37,398.25" stroke="#707070" stroke-width="0.9" fill="none"/>
<path d="M406.33,404.75 L406.33,408.36 M404.73,404.75 L407.93,404.75 M404.73,408.36 L407.93,408.36" stroke="#707070" stroke-width="0.9" fill="none"/>
<path d="M419.90,410.89 L419.90,413.06 M418.30,410.89 L421.50,410.89 M418.30,413.06 L421.50,413.06" stroke="#707070" stroke-width="0.9" fill="none"/>
<path d="M433.47,416.31 L433.47,417.40 M431.87,416.31 L435.07,416.31 M431.87,417.40 L435.07,417.40" stroke="#707070" stroke-width="0.9" fill="none"/>
<path d="M447.03,417.04 L447.03,417.76 M445.43,417.04 L448.63,417.04 M445.43,417.76 L448.63,417.76" stroke="#707070" stroke-width="0.9" fill="none"/>
<path d="M460.60,417.58 L460.60,417.94 M459.00,417.58 L462.20,417.58 M459.00,417.94 L462.20,417.94" stroke="#707070" stroke-width="0.9" fill="none"/>
<path d="M311.37,409.27 L324.93,359.22 L338.50,350.55 L352.07,357.60 L365.63,362.47 L379.20,382.89 L392.77,396.08 L406.33,406.56 L419.90,411.98 L433.47,416.85 L447.03,417.40 L460.60,417.76" fill="none" stroke="#707070" stroke-width="1.3"  stroke-linejoin="round"/>
<circle cx="311.37" cy="409.27" r="1.3" fill="#707070"/>
<circle cx="324.93" cy="359.22" r="1.3" fill="#707070"/>
<circle cx="338.50" cy="350.55" r="1.3" fill="#707070"/>
<circle cx="352.07" cy="357.60" r="1.3" fill="#707070"/>
<circle cx="365.63" cy="362.47" r="1.3" fill="#707070"/>
<circle cx="379.20" cy="382.89" r="1.3" fill="#707070"/>
<circle cx="392.77" cy="396.08" r="1.3" fill="#707070"/>
<circle cx="406.33" cy="406.56" r="1.3" fill="#707070"/>
<circle cx="419.90" cy="411.98" r="1.3" fill="#707070"/>
<circle cx="433.47" cy="416.85" r="1.3" fill="#707070"/>
<circle cx="447.03" cy="417.40" r="1.3" fill="#707070"/>
<circle cx="460.60" cy="417.76" r="1.3" fill="#707070"/>
<path d="M311.37,406.20 L311.37,410.53 M309.77,406.20 L312.97,406.20 M309.77,410.53 L312.97,410.53" stroke="#151515" stroke-width="0.9" fill="none"/>
<path d="M324.93,361.39 L324.93,372.23 M323.33,361.39 L326.53,361.39 M323.33,372.23 L326.53,372.23" stroke="#151515" stroke-width="0.9" fill="none"/>
<path d="M338.50,339.89 L338.50,348.92 M336.90,339.89 L340.10,339.89 M336.90,348.92 L340.10,348.92" stroke="#151515" stroke-width="0.9" fill="none"/>
<path d="M352.07,340.97 L352.07,351.81 M350.47,340.97 L353.67,340.97 M350.47,351.81 L353.67,351.81" stroke="#151515" stroke-width="0.9" fill="none"/>
<path d="M365.63,356.33 L365.63,361.75 M364.03,356.33 L367.23,356.33 M364.03,361.75 L367.23,361.75" stroke="#151515" stroke-width="0.9" fill="none"/>
<path d="M379.20,371.33 L379.20,375.66 M377.60,371.33 L380.80,371.33 M377.60,375.66 L380.80,375.66" stroke="#151515" stroke-width="0.9" fill="none"/>
<path d="M392.77,391.74 L392.77,396.08 M391.17,391.74 L394.37,391.74 M391.17,396.08 L394.37,396.08" stroke="#151515" stroke-width="0.9" fill="none"/>
<path d="M406.33,403.30 L406.33,406.92 M404.73,403.30 L407.93,403.30 M404.73,406.92 L407.93,406.92" stroke="#151515" stroke-width="0.9" fill="none"/>
<path d="M419.90,409.09 L419.90,411.25 M418.30,409.09 L421.50,409.09 M418.30,411.25 L421.50,411.25" stroke="#151515" stroke-width="0.9" fill="none"/>
<path d="M433.47,411.43 L433.47,413.24 M431.87,411.43 L435.07,411.43 M431.87,413.24 L435.07,413.24" stroke="#151515" stroke-width="0.9" fill="none"/>
<path d="M447.03,416.67 L447.03,417.40 M445.43,416.67 L448.63,416.67 M445.43,417.40 L448.63,417.40" stroke="#151515" stroke-width="0.9" fill="none"/>
<path d="M460.60,417.22 L460.60,417.58 M459.00,417.22 L462.20,417.22 M459.00,417.58 L462.20,417.58" stroke="#151515" stroke-width="0.9" fill="none"/>
<path d="M311.37,408.36 L324.93,366.81 L338.50,344.41 L352.07,346.39 L365.63,359.04 L379.20,373.49 L392.77,393.91 L406.33,405.11 L419.90,410.17 L433.47,412.34 L447.03,417.04 L460.60,417.40" fill="none" stroke="#151515" stroke-width="1.35"  stroke-linejoin="round"/>
<circle cx="311.37" cy="408.36" r="1.3" fill="#151515"/>
<circle cx="324.93" cy="366.81" r="1.3" fill="#151515"/>
<circle cx="338.50" cy="344.41" r="1.3" fill="#151515"/>
<circle cx="352.07" cy="346.39" r="1.3" fill="#151515"/>
<circle cx="365.63" cy="359.04" r="1.3" fill="#151515"/>
<circle cx="379.20" cy="373.49" r="1.3" fill="#151515"/>
<circle cx="392.77" cy="393.91" r="1.3" fill="#151515"/>
<circle cx="406.33" cy="405.11" r="1.3" fill="#151515"/>
<circle cx="419.90" cy="410.17" r="1.3" fill="#151515"/>
<circle cx="433.47" cy="412.34" r="1.3" fill="#151515"/>
<circle cx="447.03" cy="417.04" r="1.3" fill="#151515"/>
<circle cx="460.60" cy="417.40" r="1.3" fill="#151515"/>
<path d="M311.37,406.74 L311.37,411.07 M309.77,406.74 L312.97,406.74 M309.77,411.07 L312.97,411.07" stroke="#111" stroke-width="0.9" fill="none"/>
<path d="M324.93,359.58 L324.93,372.23 M323.33,359.58 L326.53,359.58 M323.33,372.23 L326.53,372.23" stroke="#111" stroke-width="0.9" fill="none"/>
<path d="M338.50,331.58 L338.50,343.87 M336.90,331.58 L340.10,331.58 M336.90,343.87 L340.10,343.87" stroke="#111" stroke-width="0.9" fill="none"/>
<path d="M352.07,331.58 L352.07,343.50 M350.47,331.58 L353.67,331.58 M350.47,343.50 L353.67,343.50" stroke="#111" stroke-width="0.9" fill="none"/>
<path d="M365.63,349.83 L365.63,355.61 M364.03,349.83 L367.23,349.83 M364.03,355.61 L367.23,355.61" stroke="#111" stroke-width="0.9" fill="none"/>
<path d="M379.20,370.60 L379.20,374.94 M377.60,370.60 L380.80,370.60 M377.60,374.94 L380.80,374.94" stroke="#111" stroke-width="0.9" fill="none"/>
<path d="M392.77,391.02 L392.77,395.36 M391.17,391.02 L394.37,391.02 M391.17,395.36 L394.37,395.36" stroke="#111" stroke-width="0.9" fill="none"/>
<path d="M406.33,402.04 L406.33,405.65 M404.73,402.04 L407.93,402.04 M404.73,405.65 L407.93,405.65" stroke="#111" stroke-width="0.9" fill="none"/>
<path d="M419.90,409.45 L419.90,411.62 M418.30,409.45 L421.50,409.45 M418.30,411.62 L421.50,411.62" stroke="#111" stroke-width="0.9" fill="none"/>
<path d="M433.47,416.31 L433.47,417.40 M431.87,416.31 L435.07,416.31 M431.87,417.40 L435.07,417.40" stroke="#111" stroke-width="0.9" fill="none"/>
<path d="M447.03,416.85 L447.03,417.58 M445.43,416.85 L448.63,416.85 M445.43,417.58 L448.63,417.58" stroke="#111" stroke-width="0.9" fill="none"/>
<path d="M460.60,417.22 L460.60,417.58 M459.00,417.22 L462.20,417.22 M459.00,417.58 L462.20,417.58" stroke="#111" stroke-width="0.9" fill="none"/>
<path d="M311.37,408.91 L324.93,365.91 L338.50,337.72 L352.07,337.54 L365.63,352.72 L379.20,372.77 L392.77,393.19 L406.33,403.85 L419.90,410.53 L433.47,416.85 L447.03,417.22 L460.60,417.40" fill="none" stroke="#111" stroke-width="1.45" stroke-dasharray="4.5,2.3" stroke-linejoin="round"/>
<circle cx="311.37" cy="408.91" r="1.3" fill="#111"/>
<circle cx="324.93" cy="365.91" r="1.3" fill="#111"/>
<circle cx="338.50" cy="337.72" r="1.3" fill="#111"/>
<circle cx="352.07" cy="337.54" r="1.3" fill="#111"/>
<circle cx="365.63" cy="352.72" r="1.3" fill="#111"/>
<circle cx="379.20" cy="372.77" r="1.3" fill="#111"/>
<circle cx="392.77" cy="393.19" r="1.3" fill="#111"/>
<circle cx="406.33" cy="403.85" r="1.3" fill="#111"/>
<circle cx="419.90" cy="410.53" r="1.3" fill="#111"/>
<circle cx="433.47" cy="416.85" r="1.3" fill="#111"/>
<circle cx="447.03" cy="417.22" r="1.3" fill="#111"/>
<circle cx="460.60" cy="417.40" r="1.3" fill="#111"/>
<circle cx="351.8" cy="321.4" r="1.7" fill="#111"/>
<text x="352.2" y="332.2" font-size="10" text-anchor="middle" fill="#3a3a3a" style="font-family:'Liberation Sans',sans-serif;" >***</text>
<text x="365.6" y="348.8" font-size="9.6" text-anchor="middle" fill="#3a3a3a" style="font-family:'Liberation Sans',sans-serif;" >**</text>
<line x1="510.4" y1="309.19999999999993" x2="510.4" y2="418.8" stroke="#333" stroke-width="1.4"/>
<line x1="507.09999999999997" y1="418.20" x2="510.4" y2="418.20" stroke="#333" stroke-width="1.2"/>
<text x="505.79999999999995" y="421.9" font-size="10.3" text-anchor="end" fill="#222" style="font-family:'Liberation Sans',sans-serif;font-weight:bold;stroke:currentColor;stroke-width:0.3px;" >0</text>
<line x1="507.09999999999997" y1="382.07" x2="510.4" y2="382.07" stroke="#333" stroke-width="1.2"/>
<text x="505.79999999999995" y="385.76666666666665" font-size="10.3" text-anchor="end" fill="#222" style="font-family:'Liberation Sans',sans-serif;font-weight:bold;stroke:currentColor;stroke-width:0.3px;" >5</text>
<line x1="507.09999999999997" y1="345.93" x2="510.4" y2="345.93" stroke="#333" stroke-width="1.2"/>
<text x="505.79999999999995" y="349.63333333333327" font-size="10.3" text-anchor="end" fill="#222" style="font-family:'Liberation Sans',sans-serif;font-weight:bold;stroke:currentColor;stroke-width:0.3px;" >10</text>
<line x1="507.09999999999997" y1="309.80" x2="510.4" y2="309.80" stroke="#333" stroke-width="1.2"/>
<text x="505.79999999999995" y="313.49999999999994" font-size="10.3" text-anchor="end" fill="#222" style="font-family:'Liberation Sans',sans-serif;font-weight:bold;stroke:currentColor;stroke-width:0.3px;" >15</text>
<line x1="509.7" y1="418.2" x2="674.6999999999999" y2="418.2" stroke="#333" stroke-width="1.4"/>
<line x1="510.40" y1="418.2" x2="510.40" y2="421.5" stroke="#333" stroke-width="1.2"/>
<text x="0" y="0" transform="translate(512.60,429.7) rotate(-45)" font-size="10" text-anchor="end" fill="#222" style="font-family:'Liberation Sans',sans-serif;font-weight:bold;stroke:currentColor;stroke-width:0.3px;">0</text>
<line x1="524.02" y1="418.2" x2="524.02" y2="421.5" stroke="#333" stroke-width="1.2"/>
<text x="0" y="0" transform="translate(526.23,429.7) rotate(-45)" font-size="10" text-anchor="end" fill="#222" style="font-family:'Liberation Sans',sans-serif;font-weight:bold;stroke:currentColor;stroke-width:0.3px;">30</text>
<line x1="537.65" y1="418.2" x2="537.65" y2="421.5" stroke="#333" stroke-width="1.2"/>
<text x="0" y="0" transform="translate(539.85,429.7) rotate(-45)" font-size="10" text-anchor="end" fill="#222" style="font-family:'Liberation Sans',sans-serif;font-weight:bold;stroke:currentColor;stroke-width:0.3px;">60</text>
<line x1="551.27" y1="418.2" x2="551.27" y2="421.5" stroke="#333" stroke-width="1.2"/>
<text x="0" y="0" transform="translate(553.48,429.7) rotate(-45)" font-size="10" text-anchor="end" fill="#222" style="font-family:'Liberation Sans',sans-serif;font-weight:bold;stroke:currentColor;stroke-width:0.3px;">90</text>
<line x1="564.90" y1="418.2" x2="564.90" y2="421.5" stroke="#333" stroke-width="1.2"/>
<text x="0" y="0" transform="translate(567.10,429.7) rotate(-45)" font-size="10" text-anchor="end" fill="#222" style="font-family:'Liberation Sans',sans-serif;font-weight:bold;stroke:currentColor;stroke-width:0.3px;">120</text>
<line x1="578.52" y1="418.2" x2="578.52" y2="421.5" stroke="#333" stroke-width="1.2"/>
<text x="0" y="0" transform="translate(580.73,429.7) rotate(-45)" font-size="10" text-anchor="end" fill="#222" style="font-family:'Liberation Sans',sans-serif;font-weight:bold;stroke:currentColor;stroke-width:0.3px;">150</text>
<line x1="592.15" y1="418.2" x2="592.15" y2="421.5" stroke="#333" stroke-width="1.2"/>
<text x="0" y="0" transform="translate(594.35,429.7) rotate(-45)" font-size="10" text-anchor="end" fill="#222" style="font-family:'Liberation Sans',sans-serif;font-weight:bold;stroke:currentColor;stroke-width:0.3px;">180</text>
<line x1="605.77" y1="418.2" x2="605.77" y2="421.5" stroke="#333" stroke-width="1.2"/>
<text x="0" y="0" transform="translate(607.98,429.7) rotate(-45)" font-size="10" text-anchor="end" fill="#222" style="font-family:'Liberation Sans',sans-serif;font-weight:bold;stroke:currentColor;stroke-width:0.3px;">210</text>
<line x1="619.40" y1="418.2" x2="619.40" y2="421.5" stroke="#333" stroke-width="1.2"/>
<text x="0" y="0" transform="translate(621.60,429.7) rotate(-45)" font-size="10" text-anchor="end" fill="#222" style="font-family:'Liberation Sans',sans-serif;font-weight:bold;stroke:currentColor;stroke-width:0.3px;">240</text>
<line x1="633.02" y1="418.2" x2="633.02" y2="421.5" stroke="#333" stroke-width="1.2"/>
<text x="0" y="0" transform="translate(635.23,429.7) rotate(-45)" font-size="10" text-anchor="end" fill="#222" style="font-family:'Liberation Sans',sans-serif;font-weight:bold;stroke:currentColor;stroke-width:0.3px;">270</text>
<line x1="646.65" y1="418.2" x2="646.65" y2="421.5" stroke="#333" stroke-width="1.2"/>
<text x="0" y="0" transform="translate(648.85,429.7) rotate(-45)" font-size="10" text-anchor="end" fill="#222" style="font-family:'Liberation Sans',sans-serif;font-weight:bold;stroke:currentColor;stroke-width:0.3px;">300</text>
<line x1="660.27" y1="418.2" x2="660.27" y2="421.5" stroke="#333" stroke-width="1.2"/>
<text x="0" y="0" transform="translate(662.48,429.7) rotate(-45)" font-size="10" text-anchor="end" fill="#222" style="font-family:'Liberation Sans',sans-serif;font-weight:bold;stroke:currentColor;stroke-width:0.3px;">330</text>
<line x1="673.90" y1="418.2" x2="673.90" y2="421.5" stroke="#333" stroke-width="1.2"/>
<text x="0" y="0" transform="translate(676.10,429.7) rotate(-45)" font-size="10" text-anchor="end" fill="#222" style="font-family:'Liberation Sans',sans-serif;font-weight:bold;stroke:currentColor;stroke-width:0.3px;">360</text>
<text x="523.1999999999999" y="458.09999999999997" font-size="11.8" textLength="136.4" lengthAdjust="spacingAndGlyphs" fill="#222" style="font-family:'Liberation Sans',sans-serif;font-weight:bold;stroke:currentColor;stroke-width:0.3px;">Distance from soma [µm]</text>
<text x="0" y="0" transform="translate(483.4,361.3) rotate(-90)" font-size="11.6" text-anchor="middle" textLength="69.3" lengthAdjust="spacingAndGlyphs" fill="#222" style="font-family:'Liberation Sans',sans-serif;font-weight:bold;stroke:currentColor;stroke-width:0.3px;">Intersections</text>
<path d="M524.02,389.29 L524.02,396.52 M522.42,389.29 L525.62,389.29 M522.42,396.52 L525.62,396.52" stroke="#a8a8a8" stroke-width="0.9" fill="none"/>
<path d="M537.65,357.50 L537.65,366.17 M536.05,357.50 L539.25,357.50 M536.05,366.17 L539.25,366.17" stroke="#a8a8a8" stroke-width="0.9" fill="none"/>
<path d="M551.27,346.66 L551.27,356.77 M549.67,346.66 L552.88,346.66 M549.67,356.77 L552.88,356.77" stroke="#a8a8a8" stroke-width="0.9" fill="none"/>
<path d="M564.90,358.22 L564.90,368.34 M563.30,358.22 L566.50,358.22 M563.30,368.34 L566.50,368.34" stroke="#a8a8a8" stroke-width="0.9" fill="none"/>
<path d="M578.52,376.29 L578.52,383.51 M576.92,376.29 L580.12,376.29 M576.92,383.51 L580.12,383.51" stroke="#a8a8a8" stroke-width="0.9" fill="none"/>
<path d="M592.15,389.29 L592.15,396.52 M590.55,389.29 L593.75,389.29 M590.55,396.52 L593.75,396.52" stroke="#a8a8a8" stroke-width="0.9" fill="none"/>
<path d="M605.77,407.36 L605.77,411.70 M604.17,407.36 L607.38,407.36 M604.17,411.70 L607.38,411.70" stroke="#a8a8a8" stroke-width="0.9" fill="none"/>
<path d="M619.40,414.23 L619.40,417.12 M617.80,414.23 L621.00,414.23 M617.80,417.12 L621.00,417.12" stroke="#a8a8a8" stroke-width="0.9" fill="none"/>
<path d="M633.02,415.31 L633.02,416.75 M631.42,415.31 L634.62,415.31 M631.42,416.75 L634.62,416.75" stroke="#a8a8a8" stroke-width="0.9" fill="none"/>
<path d="M524.02,392.91 L537.65,361.83 L551.27,351.71 L564.90,363.28 L578.52,379.90 L592.15,392.91 L605.77,409.53 L619.40,415.67 L633.02,416.03 L646.65,417.84 L660.27,418.20 L673.90,417.84" fill="none" stroke="#a8a8a8" stroke-width="1.3"  stroke-linejoin="round"/>
<circle cx="524.02" cy="392.91" r="1.3" fill="#a8a8a8"/>
<circle cx="537.65" cy="361.83" r="1.3" fill="#a8a8a8"/>
<circle cx="551.27" cy="351.71" r="1.3" fill="#a8a8a8"/>
<circle cx="564.90" cy="363.28" r="1.3" fill="#a8a8a8"/>
<circle cx="578.52" cy="379.90" r="1.3" fill="#a8a8a8"/>
<circle cx="592.15" cy="392.91" r="1.3" fill="#a8a8a8"/>
<circle cx="605.77" cy="409.53" r="1.3" fill="#a8a8a8"/>
<circle cx="619.40" cy="415.67" r="1.3" fill="#a8a8a8"/>
<circle cx="633.02" cy="416.03" r="1.3" fill="#a8a8a8"/>
<circle cx="646.65" cy="417.84" r="1.3" fill="#a8a8a8"/>
<circle cx="660.27" cy="418.20" r="1.3" fill="#a8a8a8"/>
<circle cx="673.90" cy="417.84" r="1.3" fill="#a8a8a8"/>
<path d="M524.02,390.74 L524.02,397.97 M522.42,390.74 L525.62,390.74 M522.42,397.97 L525.62,397.97" stroke="#707070" stroke-width="0.9" fill="none"/>
<path d="M537.65,343.04 L537.65,354.61 M536.05,343.04 L539.25,343.04 M536.05,354.61 L539.25,354.61" stroke="#707070" stroke-width="0.9" fill="none"/>
<path d="M551.27,345.21 L551.27,356.77 M549.67,345.21 L552.88,345.21 M549.67,356.77 L552.88,356.77" stroke="#707070" stroke-width="0.9" fill="none"/>
<path d="M564.90,353.16 L564.90,364.72 M563.30,353.16 L566.50,353.16 M563.30,364.72 L566.50,364.72" stroke="#707070" stroke-width="0.9" fill="none"/>
<path d="M578.52,364.72 L578.52,371.95 M576.92,364.72 L580.12,364.72 M576.92,371.95 L580.12,371.95" stroke="#707070" stroke-width="0.9" fill="none"/>
<path d="M592.15,384.23 L592.15,391.46 M590.55,384.23 L593.75,384.23 M590.55,391.46 L593.75,391.46" stroke="#707070" stroke-width="0.9" fill="none"/>
<path d="M605.77,404.47 L605.77,408.81 M604.17,404.47 L607.38,404.47 M604.17,408.81 L607.38,408.81" stroke="#707070" stroke-width="0.9" fill="none"/>
<path d="M619.40,412.42 L619.40,415.31 M617.80,412.42 L621.00,412.42 M617.80,415.31 L621.00,415.31" stroke="#707070" stroke-width="0.9" fill="none"/>
<path d="M633.02,415.31 L633.02,416.75 M631.42,415.31 L634.62,415.31 M631.42,416.75 L634.62,416.75" stroke="#707070" stroke-width="0.9" fill="none"/>
<path d="M524.02,394.35 L537.65,348.82 L551.27,350.99 L564.90,358.94 L578.52,368.34 L592.15,387.85 L605.77,406.64 L619.40,413.86 L633.02,416.03 L646.65,417.84 L660.27,418.20 L673.90,417.84" fill="none" stroke="#707070" stroke-width="1.3"  stroke-linejoin="round"/>
<circle cx="524.02" cy="394.35" r="1.3" fill="#707070"/>
<circle cx="537.65" cy="348.82" r="1.3" fill="#707070"/>
<circle cx="551.27" cy="350.99" r="1.3" fill="#707070"/>
<circle cx="564.90" cy="358.94" r="1.3" fill="#707070"/>
<circle cx="578.52" cy="368.34" r="1.3" fill="#707070"/>
<circle cx="592.15" cy="387.85" r="1.3" fill="#707070"/>
<circle cx="605.77" cy="406.64" r="1.3" fill="#707070"/>
<circle cx="619.40" cy="413.86" r="1.3" fill="#707070"/>
<circle cx="633.02" cy="416.03" r="1.3" fill="#707070"/>
<circle cx="646.65" cy="417.84" r="1.3" fill="#707070"/>
<circle cx="660.27" cy="418.20" r="1.3" fill="#707070"/>
<circle cx="673.90" cy="417.84" r="1.3" fill="#707070"/>
<path d="M524.02,391.46 L524.02,398.69 M522.42,391.46 L525.62,391.46 M522.42,398.69 L525.62,398.69" stroke="#151515" stroke-width="0.9" fill="none"/>
<path d="M537.65,349.55 L537.65,361.11 M536.05,349.55 L539.25,349.55 M536.05,361.11 L539.25,361.11" stroke="#151515" stroke-width="0.9" fill="none"/>
<path d="M551.27,335.09 L551.27,346.66 M549.67,335.09 L552.88,335.09 M549.67,346.66 L552.88,346.66" stroke="#151515" stroke-width="0.9" fill="none"/>
<path d="M564.90,341.60 L564.90,353.16 M563.30,341.60 L566.50,341.60 M563.30,353.16 L566.50,353.16" stroke="#151515" stroke-width="0.9" fill="none"/>
<path d="M578.52,361.11 L578.52,368.34 M576.92,361.11 L580.12,361.11 M576.92,368.34 L580.12,368.34" stroke="#151515" stroke-width="0.9" fill="none"/>
<path d="M592.15,380.62 L592.15,387.85 M590.55,380.62 L593.75,380.62 M590.55,387.85 L593.75,387.85" stroke="#151515" stroke-width="0.9" fill="none"/>
<path d="M605.77,402.30 L605.77,406.64 M604.17,402.30 L607.38,402.30 M604.17,406.64 L607.38,406.64" stroke="#151515" stroke-width="0.9" fill="none"/>
<path d="M619.40,410.25 L619.40,413.14 M617.80,410.25 L621.00,410.25 M617.80,413.14 L621.00,413.14" stroke="#151515" stroke-width="0.9" fill="none"/>
<path d="M633.02,413.14 L633.02,416.03 M631.42,413.14 L634.62,413.14 M631.42,416.03 L634.62,416.03" stroke="#151515" stroke-width="0.9" fill="none"/>
<path d="M646.65,413.86 L646.65,416.03 M645.05,413.86 L648.25,413.86 M645.05,416.03 L648.25,416.03" stroke="#151515" stroke-width="0.9" fill="none"/>
<path d="M524.02,395.07 L537.65,355.33 L551.27,340.87 L564.90,347.38 L578.52,364.72 L592.15,384.23 L605.77,404.47 L619.40,411.70 L633.02,414.59 L646.65,414.95 L660.27,418.20 L673.90,417.48" fill="none" stroke="#151515" stroke-width="1.35"  stroke-linejoin="round"/>
<circle cx="524.02" cy="395.07" r="1.3" fill="#151515"/>
<circle cx="537.65" cy="355.33" r="1.3" fill="#151515"/>
<circle cx="551.27" cy="340.87" r="1.3" fill="#151515"/>
<circle cx="564.90" cy="347.38" r="1.3" fill="#151515"/>
<circle cx="578.52" cy="364.72" r="1.3" fill="#151515"/>
<circle cx="592.15" cy="384.23" r="1.3" fill="#151515"/>
<circle cx="605.77" cy="404.47" r="1.3" fill="#151515"/>
<circle cx="619.40" cy="411.70" r="1.3" fill="#151515"/>
<circle cx="633.02" cy="414.59" r="1.3" fill="#151515"/>
<circle cx="646.65" cy="414.95" r="1.3" fill="#151515"/>
<circle cx="660.27" cy="418.20" r="1.3" fill="#151515"/>
<circle cx="673.90" cy="417.48" r="1.3" fill="#151515"/>
<path d="M524.02,390.02 L524.02,397.24 M522.42,390.02 L525.62,390.02 M522.42,397.24 L525.62,397.24" stroke="#111" stroke-width="0.9" fill="none"/>
<path d="M537.65,340.87 L537.65,352.44 M536.05,340.87 L539.25,340.87 M536.05,352.44 L539.25,352.44" stroke="#111" stroke-width="0.9" fill="none"/>
<path d="M551.27,319.92 L551.27,331.48 M549.67,319.92 L552.88,319.92 M549.67,331.48 L552.88,331.48" stroke="#111" stroke-width="0.9" fill="none"/>
<path d="M564.90,328.59 L564.90,340.15 M563.30,328.59 L566.50,328.59 M563.30,340.15 L566.50,340.15" stroke="#111" stroke-width="0.9" fill="none"/>
<path d="M578.52,356.05 L578.52,363.28 M576.92,356.05 L580.12,356.05 M576.92,363.28 L580.12,363.28" stroke="#111" stroke-width="0.9" fill="none"/>
<path d="M592.15,377.01 L592.15,384.23 M590.55,377.01 L593.75,377.01 M590.55,384.23 L593.75,384.23" stroke="#111" stroke-width="0.9" fill="none"/>
<path d="M605.77,398.69 L605.77,403.02 M604.17,398.69 L607.38,398.69 M604.17,403.02 L607.38,403.02" stroke="#111" stroke-width="0.9" fill="none"/>
<path d="M619.40,409.53 L619.40,412.42 M617.80,409.53 L621.00,409.53 M617.80,412.42 L621.00,412.42" stroke="#111" stroke-width="0.9" fill="none"/>
<path d="M633.02,413.14 L633.02,416.03 M631.42,413.14 L634.62,413.14 M631.42,416.03 L634.62,416.03" stroke="#111" stroke-width="0.9" fill="none"/>
<path d="M524.02,393.63 L537.65,346.66 L551.27,325.70 L564.90,334.37 L578.52,359.66 L592.15,380.62 L605.77,400.86 L619.40,410.97 L633.02,414.59 L646.65,417.48 L660.27,418.20 L673.90,417.48" fill="none" stroke="#111" stroke-width="1.45" stroke-dasharray="4.5,2.3" stroke-linejoin="round"/>
<circle cx="524.02" cy="393.63" r="1.3" fill="#111"/>
<circle cx="537.65" cy="346.66" r="1.3" fill="#111"/>
<circle cx="551.27" cy="325.70" r="1.3" fill="#111"/>
<circle cx="564.90" cy="334.37" r="1.3" fill="#111"/>
<circle cx="578.52" cy="359.66" r="1.3" fill="#111"/>
<circle cx="592.15" cy="380.62" r="1.3" fill="#111"/>
<circle cx="605.77" cy="400.86" r="1.3" fill="#111"/>
<circle cx="619.40" cy="410.97" r="1.3" fill="#111"/>
<circle cx="633.02" cy="414.59" r="1.3" fill="#111"/>
<circle cx="646.65" cy="417.48" r="1.3" fill="#111"/>
<circle cx="660.27" cy="418.20" r="1.3" fill="#111"/>
<circle cx="673.90" cy="417.48" r="1.3" fill="#111"/>
<circle cx="550.5" cy="308.7" r="1.7" fill="#111"/><circle cx="555.3" cy="308.7" r="1.7" fill="#111"/>
<text x="552" y="318.4" font-size="9.8" text-anchor="middle" fill="#3a3a3a" style="font-family:'Liberation Sans',sans-serif;" >***</text>
<circle cx="561.3" cy="321" r="1.7" fill="#111"/><circle cx="566.1" cy="321" r="1.7" fill="#111"/>
<text x="565" y="330.8" font-size="9.8" text-anchor="middle" fill="#3a3a3a" style="font-family:'Liberation Sans',sans-serif;" >***</text>
<text x="579.4" y="351.9" font-size="9.6" text-anchor="middle" fill="#3a3a3a" style="font-family:'Liberation Sans',sans-serif;" >**</text>
<path d="M631.1,297.8 L636.4,297.8 M638.6,297.8 L644.7,297.8 M647.6,297.8 L648.6,297.8" stroke="#111" stroke-width="1.8"/>
<circle cx="639.8" cy="297.8" r="1.6" fill="#111"/>
<line x1="631" y1="313.4" x2="649" y2="313.4" stroke="#a8a8a8" stroke-width="1.7"/>
<circle cx="639.8" cy="313.4" r="1.6" fill="#a8a8a8"/>
<line x1="631" y1="326.8" x2="649" y2="326.8" stroke="#707070" stroke-width="1.7"/>
<circle cx="639.8" cy="326.8" r="1.6" fill="#707070"/>
<line x1="631" y1="344.4" x2="649" y2="344.4" stroke="#151515" stroke-width="1.7"/>
<circle cx="639.8" cy="344.4" r="1.6" fill="#151515"/>
<text x="658.2" y="300.6" font-size="8.3" fill="#555" style="font-family:'Liberation Sans',sans-serif;">WT</text>
<text y="316.4" font-size="8.3" fill="#555" style="font-family:'Liberation Sans',sans-serif;"><tspan x="658.2">K</tspan><tspan font-size="6" dy="-3">b</tspan><tspan dy="3">D</tspan><tspan font-size="6" dy="-3">b -/-</tspan></text>
<text y="330.2" font-size="8.3" fill="#555" style="font-family:'Liberation Sans',sans-serif;"><tspan x="658.2">β2M</tspan><tspan font-size="6" dy="-3"> -/-</tspan></text>
<text y="347.6" font-size="8.3" fill="#555" style="font-family:'Liberation Sans',sans-serif;"><tspan x="658.2">TAP</tspan><tspan font-size="6" dy="-3">-/-</tspan></text>
<line x1="297.8" y1="489.20000000000005" x2="297.8" y2="598.8000000000001" stroke="#333" stroke-width="1.4"/>
<line x1="294.5" y1="598.20" x2="297.8" y2="598.20" stroke="#333" stroke-width="1.2"/>
<text x="293.2" y="601.9000000000001" font-size="10.3" text-anchor="end" fill="#222" style="font-family:'Liberation Sans',sans-serif;font-weight:bold;stroke:currentColor;stroke-width:0.3px;" >0</text>
<line x1="294.5" y1="580.13" x2="297.8" y2="580.13" stroke="#333" stroke-width="1.2"/>
<text x="293.2" y="583.8333333333334" font-size="10.3" text-anchor="end" fill="#222" style="font-family:'Liberation Sans',sans-serif;font-weight:bold;stroke:currentColor;stroke-width:0.3px;" >100</text>
<line x1="294.5" y1="562.07" x2="297.8" y2="562.07" stroke="#333" stroke-width="1.2"/>
<text x="293.2" y="565.7666666666668" font-size="10.3" text-anchor="end" fill="#222" style="font-family:'Liberation Sans',sans-serif;font-weight:bold;stroke:currentColor;stroke-width:0.3px;" >200</text>
<line x1="294.5" y1="544.00" x2="297.8" y2="544.00" stroke="#333" stroke-width="1.2"/>
<text x="293.2" y="547.7" font-size="10.3" text-anchor="end" fill="#222" style="font-family:'Liberation Sans',sans-serif;font-weight:bold;stroke:currentColor;stroke-width:0.3px;" >300</text>
<line x1="294.5" y1="525.93" x2="297.8" y2="525.93" stroke="#333" stroke-width="1.2"/>
<text x="293.2" y="529.6333333333334" font-size="10.3" text-anchor="end" fill="#222" style="font-family:'Liberation Sans',sans-serif;font-weight:bold;stroke:currentColor;stroke-width:0.3px;" >400</text>
<line x1="294.5" y1="507.87" x2="297.8" y2="507.87" stroke="#333" stroke-width="1.2"/>
<text x="293.2" y="511.5666666666667" font-size="10.3" text-anchor="end" fill="#222" style="font-family:'Liberation Sans',sans-serif;font-weight:bold;stroke:currentColor;stroke-width:0.3px;" >500</text>
<line x1="294.5" y1="489.80" x2="297.8" y2="489.80" stroke="#333" stroke-width="1.2"/>
<text x="293.2" y="493.50000000000006" font-size="10.3" text-anchor="end" fill="#222" style="font-family:'Liberation Sans',sans-serif;font-weight:bold;stroke:currentColor;stroke-width:0.3px;" >600</text>
<line x1="297.1" y1="598.2" x2="461.40000000000003" y2="598.2" stroke="#333" stroke-width="1.4"/>
<line x1="297.80" y1="598.2" x2="297.80" y2="601.5" stroke="#333" stroke-width="1.2"/>
<text x="0" y="0" transform="translate(300.00,609.7) rotate(-45)" font-size="10" text-anchor="end" fill="#222" style="font-family:'Liberation Sans',sans-serif;font-weight:bold;stroke:currentColor;stroke-width:0.3px;">0</text>
<line x1="311.37" y1="598.2" x2="311.37" y2="601.5" stroke="#333" stroke-width="1.2"/>
<text x="0" y="0" transform="translate(313.57,609.7) rotate(-45)" font-size="10" text-anchor="end" fill="#222" style="font-family:'Liberation Sans',sans-serif;font-weight:bold;stroke:currentColor;stroke-width:0.3px;">30</text>
<line x1="324.93" y1="598.2" x2="324.93" y2="601.5" stroke="#333" stroke-width="1.2"/>
<text x="0" y="0" transform="translate(327.13,609.7) rotate(-45)" font-size="10" text-anchor="end" fill="#222" style="font-family:'Liberation Sans',sans-serif;font-weight:bold;stroke:currentColor;stroke-width:0.3px;">60</text>
<line x1="338.50" y1="598.2" x2="338.50" y2="601.5" stroke="#333" stroke-width="1.2"/>
<text x="0" y="0" transform="translate(340.70,609.7) rotate(-45)" font-size="10" text-anchor="end" fill="#222" style="font-family:'Liberation Sans',sans-serif;font-weight:bold;stroke:currentColor;stroke-width:0.3px;">90</text>
<line x1="352.07" y1="598.2" x2="352.07" y2="601.5" stroke="#333" stroke-width="1.2"/>
<text x="0" y="0" transform="translate(354.27,609.7) rotate(-45)" font-size="10" text-anchor="end" fill="#222" style="font-family:'Liberation Sans',sans-serif;font-weight:bold;stroke:currentColor;stroke-width:0.3px;">120</text>
<line x1="365.63" y1="598.2" x2="365.63" y2="601.5" stroke="#333" stroke-width="1.2"/>
<text x="0" y="0" transform="translate(367.83,609.7) rotate(-45)" font-size="10" text-anchor="end" fill="#222" style="font-family:'Liberation Sans',sans-serif;font-weight:bold;stroke:currentColor;stroke-width:0.3px;">150</text>
<line x1="379.20" y1="598.2" x2="379.20" y2="601.5" stroke="#333" stroke-width="1.2"/>
<text x="0" y="0" transform="translate(381.40,609.7) rotate(-45)" font-size="10" text-anchor="end" fill="#222" style="font-family:'Liberation Sans',sans-serif;font-weight:bold;stroke:currentColor;stroke-width:0.3px;">180</text>
<line x1="392.77" y1="598.2" x2="392.77" y2="601.5" stroke="#333" stroke-width="1.2"/>
<text x="0" y="0" transform="translate(394.97,609.7) rotate(-45)" font-size="10" text-anchor="end" fill="#222" style="font-family:'Liberation Sans',sans-serif;font-weight:bold;stroke:currentColor;stroke-width:0.3px;">210</text>
<line x1="406.33" y1="598.2" x2="406.33" y2="601.5" stroke="#333" stroke-width="1.2"/>
<text x="0" y="0" transform="translate(408.53,609.7) rotate(-45)" font-size="10" text-anchor="end" fill="#222" style="font-family:'Liberation Sans',sans-serif;font-weight:bold;stroke:currentColor;stroke-width:0.3px;">240</text>
<line x1="419.90" y1="598.2" x2="419.90" y2="601.5" stroke="#333" stroke-width="1.2"/>
<text x="0" y="0" transform="translate(422.10,609.7) rotate(-45)" font-size="10" text-anchor="end" fill="#222" style="font-family:'Liberation Sans',sans-serif;font-weight:bold;stroke:currentColor;stroke-width:0.3px;">270</text>
<line x1="433.47" y1="598.2" x2="433.47" y2="601.5" stroke="#333" stroke-width="1.2"/>
<text x="0" y="0" transform="translate(435.67,609.7) rotate(-45)" font-size="10" text-anchor="end" fill="#222" style="font-family:'Liberation Sans',sans-serif;font-weight:bold;stroke:currentColor;stroke-width:0.3px;">300</text>
<line x1="447.03" y1="598.2" x2="447.03" y2="601.5" stroke="#333" stroke-width="1.2"/>
<text x="0" y="0" transform="translate(449.23,609.7) rotate(-45)" font-size="10" text-anchor="end" fill="#222" style="font-family:'Liberation Sans',sans-serif;font-weight:bold;stroke:currentColor;stroke-width:0.3px;">330</text>
<line x1="460.60" y1="598.2" x2="460.60" y2="601.5" stroke="#333" stroke-width="1.2"/>
<text x="0" y="0" transform="translate(462.80,609.7) rotate(-45)" font-size="10" text-anchor="end" fill="#222" style="font-family:'Liberation Sans',sans-serif;font-weight:bold;stroke:currentColor;stroke-width:0.3px;">360</text>
<text x="310.6" y="638.1" font-size="11.8" textLength="136.4" lengthAdjust="spacingAndGlyphs" fill="#222" style="font-family:'Liberation Sans',sans-serif;font-weight:bold;stroke:currentColor;stroke-width:0.3px;">Distance from soma [µm]</text>
<text x="0" y="0" transform="translate(263.4,542.4) rotate(-90)" font-size="11.6" text-anchor="middle" textLength="113.2" lengthAdjust="spacingAndGlyphs" fill="#222" style="font-family:'Liberation Sans',sans-serif;font-weight:bold;stroke:currentColor;stroke-width:0.3px;">Dendritic length [µm]</text>
<path d="M311.37,568.39 L311.37,573.81 M309.77,568.39 L312.97,568.39 M309.77,573.81 L312.97,573.81" stroke="#a8a8a8" stroke-width="0.9" fill="none"/>
<path d="M324.93,537.13 L324.93,544.36 M323.33,537.13 L326.53,537.13 M323.33,544.36 L326.53,544.36" stroke="#a8a8a8" stroke-width="0.9" fill="none"/>
<path d="M338.50,538.94 L338.50,545.45 M336.90,538.94 L340.10,538.94 M336.90,545.45 L340.10,545.45" stroke="#a8a8a8" stroke-width="0.9" fill="none"/>
<path d="M352.07,563.87 L352.07,571.10 M350.47,563.87 L353.67,563.87 M350.47,571.10 L353.67,571.10" stroke="#a8a8a8" stroke-width="0.9" fill="none"/>
<path d="M365.63,586.46 L365.63,591.88 M364.03,586.46 L367.23,586.46 M364.03,591.88 L367.23,591.88" stroke="#a8a8a8" stroke-width="0.9" fill="none"/>
<path d="M379.20,595.67 L379.20,597.12 M377.60,595.67 L380.80,595.67 M377.60,597.12 L380.80,597.12" stroke="#a8a8a8" stroke-width="0.9" fill="none"/>
<path d="M311.37,571.10 L324.93,540.75 L338.50,542.19 L352.07,567.49 L365.63,589.17 L379.20,596.39 L392.77,598.20" fill="none" stroke="#a8a8a8" stroke-width="1.3"  stroke-linejoin="round"/>
<circle cx="311.37" cy="571.10" r="1.3" fill="#a8a8a8"/>
<circle cx="324.93" cy="540.75" r="1.3" fill="#a8a8a8"/>
<circle cx="338.50" cy="542.19" r="1.3" fill="#a8a8a8"/>
<circle cx="352.07" cy="567.49" r="1.3" fill="#a8a8a8"/>
<circle cx="365.63" cy="589.17" r="1.3" fill="#a8a8a8"/>
<circle cx="379.20" cy="596.39" r="1.3" fill="#a8a8a8"/>
<circle cx="392.77" cy="598.20" r="1.3" fill="#a8a8a8"/>
<path d="M311.37,570.38 L311.37,577.60 M309.77,570.38 L312.97,570.38 M309.77,577.60 L312.97,577.60" stroke="#707070" stroke-width="0.9" fill="none"/>
<path d="M324.93,547.61 L324.93,563.87 M323.33,547.61 L326.53,547.61 M323.33,563.87 L326.53,563.87" stroke="#707070" stroke-width="0.9" fill="none"/>
<path d="M338.50,555.92 L338.50,568.57 M336.90,555.92 L340.10,555.92 M336.90,568.57 L340.10,568.57" stroke="#707070" stroke-width="0.9" fill="none"/>
<path d="M352.07,565.68 L352.07,576.52 M350.47,565.68 L353.67,565.68 M350.47,576.52 L353.67,576.52" stroke="#707070" stroke-width="0.9" fill="none"/>
<path d="M365.63,587.36 L365.63,592.78 M364.03,587.36 L367.23,587.36 M364.03,592.78 L367.23,592.78" stroke="#707070" stroke-width="0.9" fill="none"/>
<path d="M379.20,595.13 L379.20,596.57 M377.60,595.13 L380.80,595.13 M377.60,596.57 L380.80,596.57" stroke="#707070" stroke-width="0.9" fill="none"/>
<path d="M311.37,573.99 L324.93,555.74 L338.50,562.25 L352.07,571.10 L365.63,590.07 L379.20,595.85 L392.77,598.20" fill="none" stroke="#707070" stroke-width="1.3"  stroke-linejoin="round"/>
<circle cx="311.37" cy="573.99" r="1.3" fill="#707070"/>
<circle cx="324.93" cy="555.74" r="1.3" fill="#707070"/>
<circle cx="338.50" cy="562.25" r="1.3" fill="#707070"/>
<circle cx="352.07" cy="571.10" r="1.3" fill="#707070"/>
<circle cx="365.63" cy="590.07" r="1.3" fill="#707070"/>
<circle cx="379.20" cy="595.85" r="1.3" fill="#707070"/>
<circle cx="392.77" cy="598.20" r="1.3" fill="#707070"/>
<path d="M311.37,565.50 L311.37,570.92 M309.77,565.50 L312.97,565.50 M309.77,570.92 L312.97,570.92" stroke="#151515" stroke-width="0.9" fill="none"/>
<path d="M324.93,536.05 L324.93,543.28 M323.33,536.05 L326.53,536.05 M323.33,543.28 L326.53,543.28" stroke="#151515" stroke-width="0.9" fill="none"/>
<path d="M338.50,540.75 L338.50,547.25 M336.90,540.75 L340.10,540.75 M336.90,547.25 L340.10,547.25" stroke="#151515" stroke-width="0.9" fill="none"/>
<path d="M352.07,566.22 L352.07,571.64 M350.47,566.22 L353.67,566.22 M350.47,571.64 L353.67,571.64" stroke="#151515" stroke-width="0.9" fill="none"/>
<path d="M365.63,586.82 L365.63,590.43 M364.03,586.82 L367.23,586.82 M364.03,590.43 L367.23,590.43" stroke="#151515" stroke-width="0.9" fill="none"/>
<path d="M379.20,595.13 L379.20,596.57 M377.60,595.13 L380.80,595.13 M377.60,596.57 L380.80,596.57" stroke="#151515" stroke-width="0.9" fill="none"/>
<path d="M311.37,568.21 L324.93,539.66 L338.50,544.00 L352.07,568.93 L365.63,588.62 L379.20,595.85 L392.77,598.02" fill="none" stroke="#151515" stroke-width="1.35"  stroke-linejoin="round"/>
<circle cx="311.37" cy="568.21" r="1.3" fill="#151515"/>
<circle cx="324.93" cy="539.66" r="1.3" fill="#151515"/>
<circle cx="338.50" cy="544.00" r="1.3" fill="#151515"/>
<circle cx="352.07" cy="568.93" r="1.3" fill="#151515"/>
<circle cx="365.63" cy="588.62" r="1.3" fill="#151515"/>
<circle cx="379.20" cy="595.85" r="1.3" fill="#151515"/>
<circle cx="392.77" cy="598.02" r="1.3" fill="#151515"/>
<path d="M311.37,566.58 L311.37,572.00 M309.77,566.58 L312.97,566.58 M309.77,572.00 L312.97,572.00" stroke="#111" stroke-width="0.9" fill="none"/>
<path d="M324.93,536.41 L324.93,543.64 M323.33,536.41 L326.53,536.41 M323.33,543.64 L326.53,543.64" stroke="#111" stroke-width="0.9" fill="none"/>
<path d="M338.50,539.84 L338.50,546.35 M336.90,539.84 L340.10,539.84 M336.90,546.35 L340.10,546.35" stroke="#111" stroke-width="0.9" fill="none"/>
<path d="M352.07,565.68 L352.07,571.10 M350.47,565.68 L353.67,565.68 M350.47,571.10 L353.67,571.10" stroke="#111" stroke-width="0.9" fill="none"/>
<path d="M365.63,586.46 L365.63,590.07 M364.03,586.46 L367.23,586.46 M364.03,590.07 L367.23,590.07" stroke="#111" stroke-width="0.9" fill="none"/>
<path d="M379.20,595.13 L379.20,596.57 M377.60,595.13 L380.80,595.13 M377.60,596.57 L380.80,596.57" stroke="#111" stroke-width="0.9" fill="none"/>
<path d="M311.37,569.29 L324.93,540.03 L338.50,543.10 L352.07,568.39 L365.63,588.26 L379.20,595.85 L392.77,598.02" fill="none" stroke="#111" stroke-width="1.45" stroke-dasharray="4.5,2.3" stroke-linejoin="round"/>
<circle cx="311.37" cy="569.29" r="1.3" fill="#111"/>
<circle cx="324.93" cy="540.03" r="1.3" fill="#111"/>
<circle cx="338.50" cy="543.10" r="1.3" fill="#111"/>
<circle cx="352.07" cy="568.39" r="1.3" fill="#111"/>
<circle cx="365.63" cy="588.26" r="1.3" fill="#111"/>
<circle cx="379.20" cy="595.85" r="1.3" fill="#111"/>
<circle cx="392.77" cy="598.02" r="1.3" fill="#111"/>
<circle cx="325.5" cy="529.9" r="1.7" fill="#111"/>
<circle cx="336.5" cy="532.8" r="1.7" fill="#111"/><circle cx="341.6" cy="532.8" r="1.7" fill="#111"/>
<line x1="510.4" y1="489.20000000000005" x2="510.4" y2="598.8000000000001" stroke="#333" stroke-width="1.4"/>
<line x1="507.09999999999997" y1="598.20" x2="510.4" y2="598.20" stroke="#333" stroke-width="1.2"/>
<text x="505.79999999999995" y="601.9000000000001" font-size="10.3" text-anchor="end" fill="#222" style="font-family:'Liberation Sans',sans-serif;font-weight:bold;stroke:currentColor;stroke-width:0.3px;" >0</text>
<line x1="507.09999999999997" y1="562.07" x2="510.4" y2="562.07" stroke="#333" stroke-width="1.2"/>
<text x="505.79999999999995" y="565.7666666666668" font-size="10.3" text-anchor="end" fill="#222" style="font-family:'Liberation Sans',sans-serif;font-weight:bold;stroke:currentColor;stroke-width:0.3px;" >5</text>
<line x1="507.09999999999997" y1="525.93" x2="510.4" y2="525.93" stroke="#333" stroke-width="1.2"/>
<text x="505.79999999999995" y="529.6333333333334" font-size="10.3" text-anchor="end" fill="#222" style="font-family:'Liberation Sans',sans-serif;font-weight:bold;stroke:currentColor;stroke-width:0.3px;" >10</text>
<line x1="507.09999999999997" y1="489.80" x2="510.4" y2="489.80" stroke="#333" stroke-width="1.2"/>
<text x="505.79999999999995" y="493.50000000000006" font-size="10.3" text-anchor="end" fill="#222" style="font-family:'Liberation Sans',sans-serif;font-weight:bold;stroke:currentColor;stroke-width:0.3px;" >15</text>
<line x1="509.7" y1="598.2" x2="674.6999999999999" y2="598.2" stroke="#333" stroke-width="1.4"/>
<line x1="510.40" y1="598.2" x2="510.40" y2="601.5" stroke="#333" stroke-width="1.2"/>
<text x="0" y="0" transform="translate(512.60,609.7) rotate(-45)" font-size="10" text-anchor="end" fill="#222" style="font-family:'Liberation Sans',sans-serif;font-weight:bold;stroke:currentColor;stroke-width:0.3px;">0</text>
<line x1="524.02" y1="598.2" x2="524.02" y2="601.5" stroke="#333" stroke-width="1.2"/>
<text x="0" y="0" transform="translate(526.23,609.7) rotate(-45)" font-size="10" text-anchor="end" fill="#222" style="font-family:'Liberation Sans',sans-serif;font-weight:bold;stroke:currentColor;stroke-width:0.3px;">30</text>
<line x1="537.65" y1="598.2" x2="537.65" y2="601.5" stroke="#333" stroke-width="1.2"/>
<text x="0" y="0" transform="translate(539.85,609.7) rotate(-45)" font-size="10" text-anchor="end" fill="#222" style="font-family:'Liberation Sans',sans-serif;font-weight:bold;stroke:currentColor;stroke-width:0.3px;">60</text>
<line x1="551.27" y1="598.2" x2="551.27" y2="601.5" stroke="#333" stroke-width="1.2"/>
<text x="0" y="0" transform="translate(553.48,609.7) rotate(-45)" font-size="10" text-anchor="end" fill="#222" style="font-family:'Liberation Sans',sans-serif;font-weight:bold;stroke:currentColor;stroke-width:0.3px;">90</text>
<line x1="564.90" y1="598.2" x2="564.90" y2="601.5" stroke="#333" stroke-width="1.2"/>
<text x="0" y="0" transform="translate(567.10,609.7) rotate(-45)" font-size="10" text-anchor="end" fill="#222" style="font-family:'Liberation Sans',sans-serif;font-weight:bold;stroke:currentColor;stroke-width:0.3px;">120</text>
<line x1="578.52" y1="598.2" x2="578.52" y2="601.5" stroke="#333" stroke-width="1.2"/>
<text x="0" y="0" transform="translate(580.73,609.7) rotate(-45)" font-size="10" text-anchor="end" fill="#222" style="font-family:'Liberation Sans',sans-serif;font-weight:bold;stroke:currentColor;stroke-width:0.3px;">150</text>
<line x1="592.15" y1="598.2" x2="592.15" y2="601.5" stroke="#333" stroke-width="1.2"/>
<text x="0" y="0" transform="translate(594.35,609.7) rotate(-45)" font-size="10" text-anchor="end" fill="#222" style="font-family:'Liberation Sans',sans-serif;font-weight:bold;stroke:currentColor;stroke-width:0.3px;">180</text>
<line x1="605.77" y1="598.2" x2="605.77" y2="601.5" stroke="#333" stroke-width="1.2"/>
<text x="0" y="0" transform="translate(607.98,609.7) rotate(-45)" font-size="10" text-anchor="end" fill="#222" style="font-family:'Liberation Sans',sans-serif;font-weight:bold;stroke:currentColor;stroke-width:0.3px;">210</text>
<line x1="619.40" y1="598.2" x2="619.40" y2="601.5" stroke="#333" stroke-width="1.2"/>
<text x="0" y="0" transform="translate(621.60,609.7) rotate(-45)" font-size="10" text-anchor="end" fill="#222" style="font-family:'Liberation Sans',sans-serif;font-weight:bold;stroke:currentColor;stroke-width:0.3px;">240</text>
<line x1="633.02" y1="598.2" x2="633.02" y2="601.5" stroke="#333" stroke-width="1.2"/>
<text x="0" y="0" transform="translate(635.23,609.7) rotate(-45)" font-size="10" text-anchor="end" fill="#222" style="font-family:'Liberation Sans',sans-serif;font-weight:bold;stroke:currentColor;stroke-width:0.3px;">270</text>
<line x1="646.65" y1="598.2" x2="646.65" y2="601.5" stroke="#333" stroke-width="1.2"/>
<text x="0" y="0" transform="translate(648.85,609.7) rotate(-45)" font-size="10" text-anchor="end" fill="#222" style="font-family:'Liberation Sans',sans-serif;font-weight:bold;stroke:currentColor;stroke-width:0.3px;">300</text>
<line x1="660.27" y1="598.2" x2="660.27" y2="601.5" stroke="#333" stroke-width="1.2"/>
<text x="0" y="0" transform="translate(662.48,609.7) rotate(-45)" font-size="10" text-anchor="end" fill="#222" style="font-family:'Liberation Sans',sans-serif;font-weight:bold;stroke:currentColor;stroke-width:0.3px;">330</text>
<line x1="673.90" y1="598.2" x2="673.90" y2="601.5" stroke="#333" stroke-width="1.2"/>
<text x="0" y="0" transform="translate(676.10,609.7) rotate(-45)" font-size="10" text-anchor="end" fill="#222" style="font-family:'Liberation Sans',sans-serif;font-weight:bold;stroke:currentColor;stroke-width:0.3px;">360</text>
<text x="523.1999999999999" y="638.1" font-size="11.8" textLength="136.4" lengthAdjust="spacingAndGlyphs" fill="#222" style="font-family:'Liberation Sans',sans-serif;font-weight:bold;stroke:currentColor;stroke-width:0.3px;">Distance from soma [µm]</text>
<text x="0" y="0" transform="translate(483.4,541.3) rotate(-90)" font-size="11.6" text-anchor="middle" textLength="69.3" lengthAdjust="spacingAndGlyphs" fill="#222" style="font-family:'Liberation Sans',sans-serif;font-weight:bold;stroke:currentColor;stroke-width:0.3px;">Intersections</text>
<path d="M524.02,536.77 L524.02,546.89 M522.42,536.77 L525.62,536.77 M522.42,546.89 L525.62,546.89" stroke="#a8a8a8" stroke-width="0.9" fill="none"/>
<path d="M537.65,522.32 L537.65,532.44 M536.05,522.32 L539.25,522.32 M536.05,532.44 L539.25,532.44" stroke="#a8a8a8" stroke-width="0.9" fill="none"/>
<path d="M551.27,536.05 L551.27,549.06 M549.67,536.05 L552.88,536.05 M549.67,549.06 L552.88,549.06" stroke="#a8a8a8" stroke-width="0.9" fill="none"/>
<path d="M564.90,570.74 L564.90,588.08 M563.30,570.74 L566.50,570.74 M563.30,588.08 L566.50,588.08" stroke="#a8a8a8" stroke-width="0.9" fill="none"/>
<path d="M578.52,590.97 L578.52,596.75 M576.92,590.97 L580.12,590.97 M576.92,596.75 L580.12,596.75" stroke="#a8a8a8" stroke-width="0.9" fill="none"/>
<path d="M524.02,541.83 L537.65,527.38 L551.27,542.55 L564.90,579.41 L578.52,593.86 L592.15,598.20 L605.77,598.20" fill="none" stroke="#a8a8a8" stroke-width="1.3"  stroke-linejoin="round"/>
<circle cx="524.02" cy="541.83" r="1.3" fill="#a8a8a8"/>
<circle cx="537.65" cy="527.38" r="1.3" fill="#a8a8a8"/>
<circle cx="551.27" cy="542.55" r="1.3" fill="#a8a8a8"/>
<circle cx="564.90" cy="579.41" r="1.3" fill="#a8a8a8"/>
<circle cx="578.52" cy="593.86" r="1.3" fill="#a8a8a8"/>
<circle cx="592.15" cy="598.20" r="1.3" fill="#a8a8a8"/>
<circle cx="605.77" cy="598.20" r="1.3" fill="#a8a8a8"/>
<path d="M524.02,542.19 L524.02,562.43 M522.42,542.19 L525.62,542.19 M522.42,562.43 L525.62,562.43" stroke="#707070" stroke-width="0.9" fill="none"/>
<path d="M537.65,542.55 L537.65,558.45 M536.05,542.55 L539.25,542.55 M536.05,558.45 L539.25,558.45" stroke="#707070" stroke-width="0.9" fill="none"/>
<path d="M551.27,547.90 L551.27,575.36 M549.67,547.90 L552.88,547.90 M549.67,575.36 L552.88,575.36" stroke="#707070" stroke-width="0.9" fill="none"/>
<path d="M564.90,561.34 L564.90,583.02 M563.30,561.34 L566.50,561.34 M563.30,583.02 L566.50,583.02" stroke="#707070" stroke-width="0.9" fill="none"/>
<path d="M578.52,582.30 L578.52,598.20 M576.92,582.30 L580.12,582.30 M576.92,598.20 L580.12,598.20" stroke="#707070" stroke-width="0.9" fill="none"/>
<path d="M524.02,552.31 L537.65,550.50 L551.27,561.63 L564.90,572.18 L578.52,590.25 L592.15,597.48 L605.77,598.20" fill="none" stroke="#707070" stroke-width="1.3"  stroke-linejoin="round"/>
<circle cx="524.02" cy="552.31" r="1.3" fill="#707070"/>
<circle cx="537.65" cy="550.50" r="1.3" fill="#707070"/>
<circle cx="551.27" cy="561.63" r="1.3" fill="#707070"/>
<circle cx="564.90" cy="572.18" r="1.3" fill="#707070"/>
<circle cx="578.52" cy="590.25" r="1.3" fill="#707070"/>
<circle cx="592.15" cy="597.48" r="1.3" fill="#707070"/>
<circle cx="605.77" cy="598.20" r="1.3" fill="#707070"/>
<path d="M524.02,539.66 L524.02,549.78 M522.42,539.66 L525.62,539.66 M522.42,549.78 L525.62,549.78" stroke="#151515" stroke-width="0.9" fill="none"/>
<path d="M537.65,521.60 L537.65,531.71 M536.05,521.60 L539.25,521.60 M536.05,531.71 L539.25,531.71" stroke="#151515" stroke-width="0.9" fill="none"/>
<path d="M551.27,540.39 L551.27,551.95 M549.67,540.39 L552.88,540.39 M549.67,551.95 L552.88,551.95" stroke="#151515" stroke-width="0.9" fill="none"/>
<path d="M564.90,575.80 L564.90,584.47 M563.30,575.80 L566.50,575.80 M563.30,584.47 L566.50,584.47" stroke="#151515" stroke-width="0.9" fill="none"/>
<path d="M578.52,593.14 L578.52,597.48 M576.92,593.14 L580.12,593.14 M576.92,597.48 L580.12,597.48" stroke="#151515" stroke-width="0.9" fill="none"/>
<path d="M524.02,544.72 L537.65,526.66 L551.27,546.17 L564.90,580.13 L578.52,595.31 L592.15,598.20 L605.77,598.20" fill="none" stroke="#151515" stroke-width="1.35"  stroke-linejoin="round"/>
<circle cx="524.02" cy="544.72" r="1.3" fill="#151515"/>
<circle cx="537.65" cy="526.66" r="1.3" fill="#151515"/>
<circle cx="551.27" cy="546.17" r="1.3" fill="#151515"/>
<circle cx="564.90" cy="580.13" r="1.3" fill="#151515"/>
<circle cx="578.52" cy="595.31" r="1.3" fill="#151515"/>
<circle cx="592.15" cy="598.20" r="1.3" fill="#151515"/>
<circle cx="605.77" cy="598.20" r="1.3" fill="#151515"/>
<path d="M524.02,538.22 L524.02,548.34 M522.42,538.22 L525.62,538.22 M522.42,548.34 L525.62,548.34" stroke="#111" stroke-width="0.9" fill="none"/>
<path d="M537.65,520.87 L537.65,530.99 M536.05,520.87 L539.25,520.87 M536.05,530.99 L539.25,530.99" stroke="#111" stroke-width="0.9" fill="none"/>
<path d="M551.27,538.22 L551.27,549.78 M549.67,538.22 L552.88,538.22 M549.67,549.78 L552.88,549.78" stroke="#111" stroke-width="0.9" fill="none"/>
<path d="M564.90,574.35 L564.90,583.02 M563.30,574.35 L566.50,574.35 M563.30,583.02 L566.50,583.02" stroke="#111" stroke-width="0.9" fill="none"/>
<path d="M578.52,592.42 L578.52,596.75 M576.92,592.42 L580.12,592.42 M576.92,596.75 L580.12,596.75" stroke="#111" stroke-width="0.9" fill="none"/>
<path d="M524.02,543.28 L537.65,525.93 L551.27,544.00 L564.90,578.69 L578.52,594.59 L592.15,597.84 L605.77,598.20" fill="none" stroke="#111" stroke-width="1.45" stroke-dasharray="4.5,2.3" stroke-linejoin="round"/>
<circle cx="524.02" cy="543.28" r="1.3" fill="#111"/>
<circle cx="537.65" cy="525.93" r="1.3" fill="#111"/>
<circle cx="551.27" cy="544.00" r="1.3" fill="#111"/>
<circle cx="564.90" cy="578.69" r="1.3" fill="#111"/>
<circle cx="578.52" cy="594.59" r="1.3" fill="#111"/>
<circle cx="592.15" cy="597.84" r="1.3" fill="#111"/>
<circle cx="605.77" cy="598.20" r="1.3" fill="#111"/>
<circle cx="537.7" cy="515.9" r="1.7" fill="#111"/>
</svg></body></html>
